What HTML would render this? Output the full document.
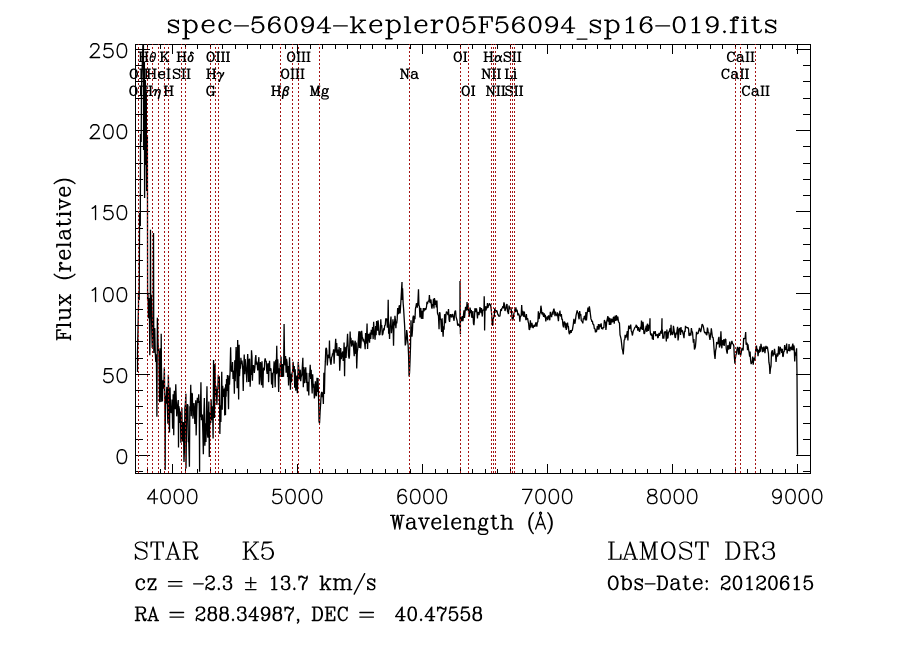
<!DOCTYPE html>
<html><head><meta charset="utf-8"><title>spec-56094-kepler05F56094_sp16-019</title>
<style>html,body{margin:0;padding:0;background:#fff;font-family:"Liberation Sans",sans-serif;}svg{display:block}</style></head><body>
<svg width="900" height="649" viewBox="0 0 900 649" shape-rendering="crispEdges">
<rect x="0" y="0" width="900" height="649" fill="#fff"/>
<path d="M135.5 44.5H810.5V473.5H135.5ZM147.5 473.5v-4.5M147.5 44.5v4.5M160.5 473.5v-4.5M160.5 44.5v4.5M172.5 473.5v-9.3M172.5 44.5v9.3M185.5 473.5v-4.5M185.5 44.5v4.5M197.5 473.5v-4.5M197.5 44.5v4.5M210.5 473.5v-4.5M210.5 44.5v4.5M222.5 473.5v-4.5M222.5 44.5v4.5M235.5 473.5v-4.5M235.5 44.5v4.5M247.5 473.5v-4.5M247.5 44.5v4.5M260.5 473.5v-4.5M260.5 44.5v4.5M272.5 473.5v-4.5M272.5 44.5v4.5M285.5 473.5v-4.5M285.5 44.5v4.5M297.5 473.5v-9.3M297.5 44.5v9.3M310.5 473.5v-4.5M310.5 44.5v4.5M322.5 473.5v-4.5M322.5 44.5v4.5M335.5 473.5v-4.5M335.5 44.5v4.5M347.5 473.5v-4.5M347.5 44.5v4.5M360.5 473.5v-4.5M360.5 44.5v4.5M372.5 473.5v-4.5M372.5 44.5v4.5M385.5 473.5v-4.5M385.5 44.5v4.5M397.5 473.5v-4.5M397.5 44.5v4.5M410.5 473.5v-4.5M410.5 44.5v4.5M422.5 473.5v-9.3M422.5 44.5v9.3M435.5 473.5v-4.5M435.5 44.5v4.5M447.5 473.5v-4.5M447.5 44.5v4.5M460.5 473.5v-4.5M460.5 44.5v4.5M472.5 473.5v-4.5M472.5 44.5v4.5M485.5 473.5v-4.5M485.5 44.5v4.5M497.5 473.5v-4.5M497.5 44.5v4.5M510.5 473.5v-4.5M510.5 44.5v4.5M522.5 473.5v-4.5M522.5 44.5v4.5M535.5 473.5v-4.5M535.5 44.5v4.5M547.5 473.5v-9.3M547.5 44.5v9.3M560.5 473.5v-4.5M560.5 44.5v4.5M572.5 473.5v-4.5M572.5 44.5v4.5M585.5 473.5v-4.5M585.5 44.5v4.5M597.5 473.5v-4.5M597.5 44.5v4.5M610.5 473.5v-4.5M610.5 44.5v4.5M622.5 473.5v-4.5M622.5 44.5v4.5M635.5 473.5v-4.5M635.5 44.5v4.5M647.5 473.5v-4.5M647.5 44.5v4.5M660.5 473.5v-4.5M660.5 44.5v4.5M672.5 473.5v-9.3M672.5 44.5v9.3M685.5 473.5v-4.5M685.5 44.5v4.5M697.5 473.5v-4.5M697.5 44.5v4.5M710.5 473.5v-4.5M710.5 44.5v4.5M722.5 473.5v-4.5M722.5 44.5v4.5M735.5 473.5v-4.5M735.5 44.5v4.5M747.5 473.5v-4.5M747.5 44.5v4.5M760.5 473.5v-4.5M760.5 44.5v4.5M772.5 473.5v-4.5M772.5 44.5v4.5M785.5 473.5v-4.5M785.5 44.5v4.5M797.5 473.5v-9.3M797.5 44.5v9.3M135.5 471.5h7.4M810.5 471.5h-7.4M135.5 455.5h14.3M810.5 455.5h-14.3M135.5 439.5h7.4M810.5 439.5h-7.4M135.5 423.5h7.4M810.5 423.5h-7.4M135.5 406.5h7.4M810.5 406.5h-7.4M135.5 390.5h7.4M810.5 390.5h-7.4M135.5 374.5h14.3M810.5 374.5h-14.3M135.5 358.5h7.4M810.5 358.5h-7.4M135.5 341.5h7.4M810.5 341.5h-7.4M135.5 325.5h7.4M810.5 325.5h-7.4M135.5 309.5h7.4M810.5 309.5h-7.4M135.5 293.5h14.3M810.5 293.5h-14.3M135.5 276.5h7.4M810.5 276.5h-7.4M135.5 260.5h7.4M810.5 260.5h-7.4M135.5 244.5h7.4M810.5 244.5h-7.4M135.5 228.5h7.4M810.5 228.5h-7.4M135.5 211.5h14.3M810.5 211.5h-14.3M135.5 195.5h7.4M810.5 195.5h-7.4M135.5 179.5h7.4M810.5 179.5h-7.4M135.5 163.5h7.4M810.5 163.5h-7.4M135.5 146.5h7.4M810.5 146.5h-7.4M135.5 130.5h14.3M810.5 130.5h-14.3M135.5 114.5h7.4M810.5 114.5h-7.4M135.5 98.5h7.4M810.5 98.5h-7.4M135.5 81.5h7.4M810.5 81.5h-7.4M135.5 65.5h7.4M810.5 65.5h-7.4M135.5 49.5h14.3M810.5 49.5h-14.3" fill="none" stroke="#000" stroke-width="1"/>
<clipPath id="c"><rect x="135" y="44" width="676" height="430"/></clipPath>
<polyline clip-path="url(#c)" fill="none" stroke="#000" stroke-width="1.3" stroke-linejoin="bevel" shape-rendering="geometricPrecision" points="137.50,372.00 137.50,352.00 138.50,306.00 138.50,294.00 139.20,300.00 139.50,230.00 139.50,213.00 140.30,226.00 140.50,147.00 140.50,134.00 141.20,142.00 141.50,88.00 143.40,30.00 143.60,150.00 144.40,62.00 144.60,198.00 145.40,80.00 145.60,165.00 146.30,92.00 146.60,191.00 147.40,135.00 147.60,300.00 148.00,292.77 148.41,318.17 148.92,298.00 149.33,300.20 149.78,355.31 150.26,316.31 150.50,229.76 150.72,308.67 151.28,294.76 151.75,330.19 152.19,348.02 152.71,329.31 153.25,307.32 153.50,233.01 153.83,353.02 154.25,329.29 154.75,328.04 155.26,352.23 155.78,362.05 156.37,354.18 156.91,416.81 157.37,317.72 157.86,339.73 158.41,350.45 158.99,351.84 159.56,402.15 160.05,348.21 160.48,363.47 160.98,402.06 161.20,333.70 161.46,368.38 162.00,395.06 162.41,401.37 162.97,380.33 163.49,388.61 163.93,382.62 164.36,367.57 164.93,408.31 165.20,470.12 165.40,395.78 166.00,403.68 166.42,394.36 166.85,386.89 167.28,405.54 167.88,423.78 168.35,374.84 168.91,398.08 169.50,432.61 170.05,387.51 170.46,405.32 171.00,412.34 171.59,412.70 172.04,399.60 172.62,428.82 173.18,394.26 173.74,435.15 174.29,390.79 174.77,400.24 175.21,409.20 175.77,384.23 176.30,400.96 176.70,416.34 177.29,410.31 177.73,404.48 178.25,400.07 178.50,447.38 178.83,406.07 179.41,409.51 179.92,423.08 180.35,411.47 180.85,442.76 181.35,439.06 181.86,407.73 182.37,440.47 182.85,441.34 183.39,421.90 183.98,461.95 184.43,449.64 184.86,407.99 185.31,404.60 185.89,393.72 186.00,468.49 186.32,444.62 186.91,412.39 187.47,404.07 187.94,405.73 188.35,442.10 188.81,442.09 189.41,466.76 189.86,406.25 190.29,410.53 190.74,384.76 191.28,416.14 191.76,392.96 192.33,394.06 192.90,418.65 193.48,412.52 193.93,403.05 194.37,408.01 194.83,423.92 195.23,418.29 195.74,400.22 196.16,435.38 196.73,411.07 197.33,397.81 197.85,402.63 198.28,401.95 198.71,394.40 199.25,406.04 199.60,471.74 199.74,400.98 200.33,417.15 200.93,382.31 201.40,420.29 201.90,415.00 202.38,414.99 202.83,432.27 203.36,454.24 203.83,414.90 204.35,397.93 204.88,445.62 205.38,423.37 205.95,441.87 206.49,410.64 206.96,386.31 207.49,434.20 207.89,437.75 208.39,417.06 208.84,401.42 209.29,456.96 209.76,412.34 210.29,416.27 210.74,423.11 211.14,399.17 211.68,420.24 212.17,406.37 212.61,408.86 213.10,438.44 213.56,360.06 214.07,382.95 214.50,417.98 215.04,364.10 215.44,395.84 215.90,385.69 216.47,392.79 216.90,405.01 217.35,389.65 217.87,389.50 218.28,374.78 218.87,384.94 219.31,376.19 219.87,433.90 220.38,405.25 220.87,421.94 221.28,398.93 221.75,371.75 222.20,409.85 222.68,385.71 223.26,396.95 223.86,393.49 224.28,388.45 224.73,415.43 225.21,387.36 225.50,414.90 225.68,384.13 226.10,396.61 226.55,379.09 227.04,391.00 227.44,374.98 227.94,385.40 228.52,409.27 228.97,375.53 229.51,384.82 230.06,372.22 230.62,347.15 231.08,368.39 231.62,371.68 232.13,370.44 232.54,361.94 233.06,379.05 233.51,370.51 233.92,372.95 234.37,393.82 234.78,360.19 235.22,381.24 235.66,364.22 236.10,347.14 236.69,365.76 237.18,388.12 237.66,339.97 238.07,360.17 238.64,399.42 239.11,344.73 239.52,376.12 239.98,367.41 240.45,368.62 240.89,357.77 241.38,364.12 241.96,360.47 242.37,364.75 242.78,369.95 243.23,390.99 243.68,371.11 244.23,354.45 244.78,374.30 245.18,359.09 245.77,366.82 246.27,371.58 246.82,382.27 247.29,362.42 247.70,353.93 248.11,363.99 248.71,381.96 249.13,359.73 249.62,358.72 250.15,386.70 250.58,374.26 251.05,374.75 251.50,350.20 251.96,356.26 252.41,380.63 252.83,369.75 253.41,365.13 253.85,366.77 254.33,372.92 254.88,367.60 255.41,358.20 255.85,355.01 256.29,364.62 256.72,361.63 257.23,364.41 257.74,370.32 258.28,364.37 258.87,357.15 259.36,384.56 259.80,379.98 260.38,362.13 260.95,365.24 261.46,385.25 261.99,361.34 262.45,374.93 262.94,387.84 263.37,369.33 263.78,367.57 264.30,370.36 264.75,360.53 265.18,358.39 265.66,361.23 266.24,361.23 266.65,369.85 267.16,373.89 267.67,364.72 268.16,363.25 268.61,382.14 269.05,367.83 269.53,360.67 269.94,370.80 270.50,368.89 270.97,368.42 271.57,384.42 272.17,372.65 272.60,387.87 273.07,373.40 273.52,372.35 274.11,361.30 274.57,365.79 275.16,387.16 275.72,359.80 276.19,374.28 276.76,345.87 277.24,373.45 277.76,359.26 278.19,371.79 278.65,391.96 279.18,368.34 279.61,376.68 280.19,363.35 280.59,366.30 281.06,356.41 281.50,377.09 282.09,363.98 282.62,376.94 283.07,364.08 283.54,376.72 284.09,324.08 284.59,361.50 285.15,365.31 285.58,356.05 286.11,372.70 286.57,358.74 287.11,362.90 287.60,377.09 288.02,365.99 288.57,385.47 289.03,374.08 289.53,357.27 289.98,369.52 290.42,389.81 290.89,373.71 291.47,382.23 292.07,372.92 292.64,371.24 293.10,361.74 293.68,372.08 294.27,366.12 294.67,387.70 295.22,369.27 295.79,390.61 296.36,383.26 296.80,375.59 297.36,393.24 297.82,377.35 298.26,361.79 298.71,367.67 299.18,379.48 299.70,375.01 300.26,369.66 300.70,381.16 301.13,376.98 301.73,375.19 302.29,367.50 302.85,357.81 303.30,387.34 303.82,366.95 304.38,383.09 304.86,378.21 305.27,369.58 305.77,367.34 306.26,382.97 306.79,372.86 307.36,391.29 307.84,388.95 308.34,381.75 308.80,395.47 309.23,372.95 309.66,376.60 310.21,364.76 310.68,378.91 311.17,369.74 311.61,381.75 312.17,393.59 312.66,374.28 313.21,387.65 313.76,383.82 314.34,398.45 314.87,395.21 315.40,381.28 315.94,393.40 316.43,396.11 317.02,377.88 317.49,391.94 318.00,377.98 318.51,395.44 319.05,421.57 319.55,423.23 320.09,412.24 320.69,402.92 321.17,394.31 321.71,391.85 322.26,397.09 322.82,392.28 323.37,404.00 323.88,372.84 324.41,394.09 324.87,372.07 325.34,361.65 325.79,348.80 326.34,347.98 326.83,350.95 327.31,365.39 327.87,356.90 328.44,354.75 329.03,358.04 329.46,340.56 329.89,357.20 330.46,362.10 331.04,364.80 331.58,357.39 332.16,356.08 332.59,353.39 333.02,354.20 333.59,349.38 334.10,363.61 334.58,352.61 335.11,348.73 335.70,338.84 336.19,352.68 336.72,342.94 337.21,355.69 337.70,349.62 338.16,355.76 338.61,355.11 339.17,347.01 339.69,370.65 340.23,360.35 340.69,347.96 341.22,359.08 341.74,356.32 342.26,353.29 342.75,351.46 343.16,361.02 343.63,356.47 344.08,342.58 344.57,376.16 345.08,346.91 345.60,353.87 346.07,357.93 346.57,347.17 347.01,345.37 347.55,333.71 348.12,345.46 348.57,355.95 349.13,358.72 349.54,355.08 350.13,331.62 350.53,343.46 350.95,337.82 351.52,346.46 352.03,344.72 352.59,340.90 353.08,340.69 353.63,348.39 354.23,356.10 354.75,343.07 355.21,340.69 355.75,353.86 356.21,342.48 356.72,368.38 357.29,351.90 357.75,348.76 358.33,339.63 358.89,331.24 359.33,348.10 359.78,331.33 360.27,332.61 360.71,348.41 361.22,341.03 361.66,330.73 362.17,336.42 362.58,337.80 363.11,341.40 363.57,338.81 364.17,341.84 364.62,343.20 365.18,349.28 365.59,332.97 366.00,343.70 366.59,337.75 367.06,323.47 367.58,349.05 368.06,335.78 368.65,333.91 369.12,339.75 369.53,342.73 370.13,332.42 370.72,338.93 371.27,329.76 371.70,333.91 372.12,334.46 372.56,326.93 373.15,339.15 373.64,321.68 374.17,331.43 374.66,335.16 375.07,339.69 375.65,326.05 376.10,335.28 376.60,321.10 377.19,324.07 377.64,330.82 378.08,320.36 378.66,327.26 379.07,335.06 379.48,334.51 379.88,335.01 380.36,330.69 380.79,319.21 381.23,327.26 381.73,325.14 382.27,335.10 382.68,334.47 383.10,332.76 383.67,328.28 384.16,330.40 384.73,325.42 385.25,325.31 385.75,318.60 386.33,318.90 386.88,319.13 387.37,327.62 387.78,325.58 388.20,299.74 388.62,333.81 389.14,329.43 389.56,339.03 389.98,325.22 390.41,322.97 390.98,316.48 391.41,333.29 391.90,327.37 392.49,327.02 392.95,319.37 393.54,345.66 394.04,321.51 394.52,325.30 394.94,315.74 395.36,319.62 395.89,328.18 396.30,321.64 396.75,323.34 397.20,318.63 397.66,308.08 398.18,313.91 398.67,313.54 399.10,306.30 399.55,305.19 400.07,313.42 400.61,305.91 401.11,297.50 401.61,288.54 402.00,282.06 402.08,299.99 402.58,288.27 403.13,303.05 403.62,308.95 404.17,318.27 404.71,327.01 405.25,345.42 405.75,343.50 406.25,338.72 406.67,329.97 407.19,333.85 407.67,341.23 408.15,345.52 408.61,356.25 409.07,376.44 409.56,372.70 410.08,359.77 410.54,346.00 410.98,320.38 411.39,330.77 411.95,336.74 412.45,330.71 412.97,317.44 413.47,315.61 413.99,323.01 414.48,316.06 414.95,319.20 415.42,309.01 415.84,307.24 416.44,303.37 416.89,303.86 417.33,307.59 417.93,301.57 418.49,289.17 418.95,305.61 419.39,306.05 419.92,317.42 420.40,309.54 420.82,308.04 421.38,318.76 421.79,316.91 422.26,310.72 422.84,319.06 423.32,308.14 423.91,311.26 424.32,309.98 424.90,308.28 425.49,309.79 425.97,309.17 426.54,306.53 426.98,301.90 427.43,304.00 427.91,302.04 428.48,300.87 428.93,301.33 429.40,295.04 429.86,302.05 430.42,303.01 430.97,299.44 431.56,306.78 431.98,308.70 432.50,304.18 432.94,306.00 433.45,298.74 433.98,308.48 434.40,298.10 434.93,300.62 435.43,304.81 435.88,300.60 436.36,307.39 436.93,300.58 437.47,313.03 438.00,314.79 438.47,315.75 439.05,329.28 439.46,312.38 439.94,312.77 440.37,319.18 440.82,319.76 441.22,326.99 441.63,331.92 442.08,318.19 442.66,329.32 443.14,336.78 443.56,326.22 444.10,329.74 444.59,314.33 445.09,314.87 445.50,323.13 446.01,314.44 446.46,311.53 446.90,313.05 447.43,312.60 447.92,315.03 448.50,308.97 449.06,319.71 449.60,321.86 450.16,314.92 450.60,314.25 451.14,316.96 451.64,317.01 452.04,314.97 452.58,314.15 453.08,316.49 453.48,317.96 454.07,320.75 454.50,314.11 454.96,311.40 455.54,310.64 456.09,317.03 456.56,318.64 457.12,320.77 457.65,325.58 458.24,323.80 458.70,324.85 459.13,325.54 459.54,325.80 459.94,327.45 460.00,281.08 460.40,334.19 460.42,315.88 460.91,318.03 461.47,319.87 461.96,321.26 462.38,315.98 462.96,321.12 463.48,315.14 464.00,310.36 464.50,317.92 465.08,312.27 465.57,306.73 466.08,310.43 466.56,309.13 467.07,302.08 467.49,310.18 468.00,303.97 468.51,311.62 468.92,313.05 469.46,316.63 470.01,307.50 470.44,309.71 470.87,313.04 471.34,310.00 471.80,317.66 472.33,316.80 472.90,311.04 473.45,323.42 473.93,325.20 474.34,319.77 474.90,308.28 475.35,309.63 475.87,312.24 476.43,308.24 476.96,311.89 477.47,318.46 477.87,312.40 478.45,312.75 479.01,315.05 479.44,312.28 479.97,307.03 480.54,310.20 481.02,313.05 481.49,308.13 481.89,312.83 482.32,316.56 482.82,309.64 483.41,310.47 483.97,309.41 484.20,296.35 484.49,307.53 484.60,330.45 485.07,306.16 485.62,309.30 486.09,310.54 486.56,306.28 487.03,308.39 487.46,303.11 487.95,307.80 488.36,305.76 488.87,305.59 489.39,303.27 489.98,304.57 490.56,304.93 491.01,307.89 491.47,312.27 491.91,318.93 492.35,325.06 492.76,325.38 493.19,319.15 493.72,317.18 494.27,316.41 494.74,308.36 495.26,310.23 495.71,312.24 496.22,310.98 496.77,310.54 497.20,311.71 497.68,314.24 498.21,314.70 498.67,316.19 499.13,315.97 499.58,316.31 499.99,315.78 500.46,311.58 500.88,309.10 501.38,311.00 501.85,308.03 502.43,308.20 502.88,306.20 503.35,308.36 503.93,302.32 504.46,304.40 504.97,311.01 505.50,309.28 505.99,308.12 506.51,305.14 507.03,304.04 507.48,311.24 507.95,312.33 508.48,313.95 509.06,305.62 509.62,308.90 510.22,308.94 510.81,307.15 511.36,310.69 511.78,314.37 512.35,320.23 512.91,319.87 513.36,317.31 513.96,313.27 514.45,312.26 514.99,308.93 515.41,312.16 515.88,307.41 516.43,311.63 516.84,309.61 517.35,311.29 517.88,315.31 518.48,313.44 518.94,314.84 519.42,315.91 519.82,321.75 520.34,316.64 520.77,316.31 521.18,315.76 521.69,305.10 522.24,315.34 522.84,310.69 523.31,316.02 523.83,316.52 524.34,311.54 524.92,317.28 525.42,315.79 525.93,320.15 526.37,313.96 526.90,319.47 527.31,318.42 527.73,318.70 528.21,322.10 528.62,323.28 529.11,329.24 529.54,329.95 529.99,327.22 530.39,320.34 530.83,327.47 531.28,325.94 531.85,322.87 532.37,325.40 532.85,327.99 533.38,327.36 533.89,325.48 534.44,324.88 534.85,326.97 535.35,324.92 535.87,322.32 536.35,325.14 536.85,326.64 537.40,322.06 537.91,321.87 538.35,311.40 538.77,318.91 539.31,318.05 539.84,313.08 540.41,313.08 540.91,305.69 541.36,308.53 541.87,314.26 542.33,313.86 542.79,311.99 543.26,315.70 543.73,316.57 544.25,313.30 544.73,317.43 545.29,314.92 545.80,321.36 546.38,317.62 546.79,318.27 547.23,316.40 547.73,320.12 548.17,317.53 548.61,315.33 549.20,317.34 549.78,320.30 550.32,311.82 550.77,316.36 551.20,314.50 551.63,317.21 552.03,313.72 552.54,311.68 553.03,314.57 553.45,310.04 553.96,308.73 554.46,311.53 555.03,316.25 555.46,311.51 555.90,314.89 556.50,314.20 556.91,316.22 557.46,312.38 557.87,316.82 558.43,321.24 558.93,313.47 559.45,315.68 559.88,310.69 560.45,315.93 560.87,316.13 561.37,314.01 561.88,319.64 562.36,318.76 562.94,325.17 563.52,327.40 564.06,321.95 564.52,321.72 564.97,322.66 565.42,328.14 565.83,323.10 566.24,329.90 566.71,328.19 567.11,325.07 567.53,322.57 567.96,326.44 568.40,326.36 568.96,332.43 569.54,334.23 570.07,331.83 570.61,330.21 571.15,332.74 571.73,330.04 572.29,330.53 572.85,327.08 573.36,323.82 573.91,318.71 574.35,322.10 574.94,323.77 575.49,319.95 576.06,315.42 576.63,312.81 577.18,310.32 577.61,312.90 578.10,312.63 578.67,317.35 579.12,319.33 579.68,311.13 580.25,315.62 580.72,314.18 581.30,320.60 581.80,321.20 582.23,321.53 582.82,323.40 583.29,318.29 583.79,319.43 584.33,315.98 584.92,316.40 585.39,320.38 585.89,312.10 586.46,320.48 587.01,314.50 587.42,311.65 588.00,307.61 588.41,310.31 588.86,311.82 589.35,306.30 589.88,309.89 590.42,314.21 590.98,318.92 591.49,319.96 591.92,321.80 592.40,320.84 592.86,324.13 593.35,324.15 593.82,325.13 594.41,328.98 594.96,328.47 595.46,332.43 595.91,329.59 596.37,332.24 596.78,330.04 597.37,326.12 597.88,329.54 598.44,324.09 599.03,329.56 599.51,324.46 599.99,325.14 600.56,327.20 601.14,323.42 601.62,328.85 602.14,327.81 602.71,329.28 603.24,327.16 603.82,327.98 604.40,319.93 604.92,322.10 605.49,321.95 605.91,330.00 606.38,325.34 606.84,320.79 607.30,318.79 607.86,316.12 608.30,321.79 608.82,317.39 609.39,325.03 609.94,317.94 610.35,324.11 610.83,324.65 611.41,319.22 611.87,319.18 612.30,322.13 612.79,321.62 613.25,317.72 613.73,316.67 614.19,323.66 614.74,318.20 615.28,315.74 615.85,320.96 616.33,315.21 616.79,316.60 617.37,320.34 617.79,316.48 618.39,321.16 618.95,322.53 619.45,323.04 620.03,334.82 620.52,336.69 621.09,339.10 621.61,343.65 622.16,348.83 622.67,350.42 623.25,354.52 623.70,348.09 624.21,339.77 624.73,340.02 625.14,334.88 625.62,337.85 626.15,336.90 626.74,334.77 627.33,331.12 627.90,340.51 628.32,330.62 628.73,325.54 629.26,328.68 629.71,328.49 630.13,326.60 630.70,324.56 631.25,330.91 631.82,332.08 632.35,335.52 632.76,333.62 633.16,331.29 633.72,330.03 634.16,329.27 634.67,327.89 635.24,327.12 635.70,326.61 636.30,324.82 636.72,327.82 637.21,325.78 637.80,330.64 638.36,327.09 638.93,329.37 639.52,331.89 639.98,330.33 640.47,326.85 641.02,329.15 641.48,320.56 641.92,326.37 642.48,330.02 642.99,321.70 643.51,326.88 643.94,333.50 644.53,333.53 645.12,330.88 645.71,328.53 646.30,325.64 646.84,332.07 647.29,324.32 647.74,323.85 648.28,330.85 648.69,328.31 649.12,325.01 649.65,326.21 650.00,318.27 650.07,330.10 650.56,334.42 651.03,334.70 651.48,335.73 651.93,333.44 652.36,339.20 652.80,335.01 653.28,340.01 653.69,331.38 654.28,333.34 654.84,333.40 655.26,331.18 655.74,336.09 656.18,334.88 656.68,335.36 657.24,334.02 657.67,337.50 658.09,337.91 658.58,335.07 659.07,333.01 659.52,335.82 660.11,333.51 660.61,331.83 661.06,330.90 661.55,333.68 662.00,318.27 662.01,329.14 662.44,330.24 662.84,338.62 663.33,336.46 663.83,338.61 664.39,332.48 664.87,331.75 665.39,331.74 665.79,333.09 666.34,341.36 666.88,329.62 667.37,338.15 667.97,338.04 668.41,332.38 669.01,331.79 669.54,330.62 670.11,328.23 670.60,335.38 671.04,324.84 671.47,334.26 671.88,331.82 672.37,334.95 672.95,333.67 673.43,325.81 673.83,328.37 674.40,332.57 674.97,337.04 675.41,337.96 675.99,332.59 676.57,334.17 677.03,330.48 677.56,326.73 678.05,340.41 678.55,336.73 678.99,329.24 679.47,328.34 680.06,328.86 680.54,334.95 680.98,326.96 681.41,332.05 681.92,330.11 682.47,330.88 682.87,333.04 683.46,335.02 683.99,338.21 684.54,330.75 685.06,332.06 685.50,325.83 685.96,327.69 686.50,326.96 687.04,327.95 687.62,327.65 688.13,327.81 688.58,329.18 689.00,335.79 689.56,335.30 689.99,332.96 690.43,334.41 690.87,335.40 691.39,328.05 691.95,331.83 692.46,331.75 692.88,336.70 693.37,342.82 693.91,339.02 694.45,349.50 694.91,348.27 695.36,347.13 695.95,340.73 696.49,331.76 696.90,333.97 697.48,333.26 697.98,333.98 698.49,331.32 698.96,329.74 699.41,327.86 699.96,329.74 700.55,332.16 701.08,330.25 701.66,326.85 702.12,324.09 702.60,324.83 703.20,326.14 703.62,327.99 704.13,330.98 704.68,332.84 705.13,332.83 705.68,332.24 706.27,334.59 706.82,335.13 707.41,327.64 707.86,329.51 708.29,333.05 708.83,332.26 709.40,336.68 709.95,339.83 710.42,335.90 710.89,333.21 711.31,328.40 711.84,332.34 712.42,337.59 712.97,337.10 713.45,339.96 713.92,347.18 714.49,354.36 715.04,359.02 715.61,350.49 716.17,348.28 716.64,341.95 717.04,343.35 717.45,343.06 717.93,344.19 718.46,338.98 719.01,336.82 719.43,347.56 719.93,345.82 720.37,344.96 720.91,331.38 721.42,342.78 721.84,348.33 722.31,340.24 722.76,341.14 723.23,345.07 723.69,339.30 724.20,345.84 724.80,340.22 725.23,339.24 725.81,339.19 726.21,348.13 726.80,351.94 727.23,353.67 727.75,345.38 728.25,346.01 728.72,349.67 729.17,346.73 729.75,341.55 730.30,348.94 730.87,344.77 731.36,343.46 731.89,340.84 732.49,343.73 732.93,343.81 733.39,344.55 733.83,346.06 734.33,356.67 734.92,363.78 735.35,358.60 735.94,354.70 736.41,353.98 736.98,349.30 737.53,347.00 738.01,348.37 738.54,354.65 739.02,349.24 739.55,346.95 740.03,353.60 740.59,355.61 741.09,353.50 741.60,350.45 742.06,347.89 742.52,348.57 743.10,350.50 743.66,338.14 744.10,338.50 744.55,338.72 745.09,338.23 745.68,332.14 746.11,344.76 746.53,343.06 747.13,343.21 747.53,350.25 747.96,344.24 748.56,349.31 749.04,352.03 749.64,356.73 750.07,351.56 750.57,359.85 751.13,364.07 751.65,362.46 752.22,361.76 752.66,356.59 753.22,364.77 753.78,357.69 754.32,358.94 754.91,360.55 755.36,353.98 755.93,346.95 756.48,345.65 757.05,351.69 757.47,348.78 758.02,356.18 758.50,351.68 758.92,349.94 759.41,352.72 759.94,346.41 760.39,351.63 760.97,343.83 761.48,346.99 762.06,348.47 762.48,352.23 762.89,347.31 763.32,351.80 763.88,346.45 764.45,348.13 764.94,353.25 765.53,348.02 765.96,345.76 766.39,348.09 766.84,348.73 767.36,346.67 767.87,350.09 768.45,353.58 768.90,362.18 769.48,365.46 769.96,374.06 770.46,368.56 771.01,366.09 771.49,353.03 772.00,350.99 772.47,350.24 772.92,356.47 773.46,353.35 773.97,354.65 774.49,348.88 775.08,353.66 775.52,355.15 776.06,361.97 776.59,356.24 777.08,353.39 777.48,356.39 778.05,355.23 778.61,346.26 779.19,353.69 779.67,354.29 780.27,346.88 780.70,350.54 781.29,348.49 781.73,352.91 782.31,348.84 782.74,356.43 783.24,356.54 783.75,351.34 784.19,351.77 784.64,345.11 785.11,348.63 785.68,349.89 786.20,348.38 786.66,343.64 787.12,353.58 787.56,349.88 788.10,350.28 788.52,350.66 789.05,344.04 789.47,350.41 789.90,351.03 790.32,348.54 790.80,347.05 791.40,347.67 791.84,350.17 792.27,346.11 792.86,343.53 793.30,350.52 793.75,345.31 794.18,347.02 794.72,361.55 795.26,352.28 795.68,355.60 796.21,351.48 796.60,348.32 797.00,374.30 797.50,454.69"/>
<path d="M138.5 44V474M138.5 44V474M147.5 44V474M152.5 44V474M158.5 44V474M164.5 44V474M168.5 44V474M181.5 44V474M185.5 44V474M210.5 44V474M215.5 44V474M218.5 44V474M280.5 44V474M292.5 44V474M298.5 44V474M319.5 44V474M409.5 44V474M460.5 44V474M468.5 44V474M491.5 44V474M493.5 44V474M495.5 44V474M510.5 44V474M512.5 44V474M514.5 44V474M735.5 44V474M740.5 44V474M755.5 44V474" fill="none" stroke="#a51414" stroke-width="1" stroke-dasharray="2 2" stroke-dashoffset="1"/>
<path d="M132.99 86.10L131.64 86.55L130.74 87.44L130.29 88.34L129.84 90.13L129.84 91.47L130.29 93.26L130.74 94.16L131.64 95.05L132.99 95.50L133.89 95.50L135.24 95.05L136.14 94.16L136.59 93.26L137.04 91.47L137.04 90.13L136.59 88.34L136.14 87.44L135.24 86.55L133.89 86.10L132.99 86.10 M132.99 86.10L132.09 86.55L131.19 87.44L130.74 88.34L130.29 90.13L130.29 91.47L130.74 93.26L131.19 94.16L132.09 95.05L132.99 95.50 M133.89 95.50L134.79 95.05L135.69 94.16L136.14 93.26L136.59 91.47L136.59 90.13L136.14 88.34L135.69 87.44L134.79 86.55L133.89 86.10 M140.64 86.10L140.64 95.50 M141.09 86.10L141.09 95.50 M139.29 86.10L142.44 86.10 M139.29 95.50L142.44 95.50 M145.59 86.10L145.59 95.50 M146.04 86.10L146.04 95.50 M144.24 86.10L147.39 86.10 M144.24 95.50L147.39 95.50 M133.34 69.10L131.99 69.55L131.09 70.44L130.64 71.34L130.19 73.13L130.19 74.47L130.64 76.26L131.09 77.16L131.99 78.05L133.34 78.50L134.24 78.50L135.59 78.05L136.49 77.16L136.94 76.26L137.39 74.47L137.39 73.13L136.94 71.34L136.49 70.44L135.59 69.55L134.24 69.10L133.34 69.10 M133.34 69.10L132.44 69.55L131.53 70.44L131.09 71.34L130.64 73.13L130.64 74.47L131.09 76.26L131.53 77.16L132.44 78.05L133.34 78.50 M134.24 78.50L135.14 78.05L136.03 77.16L136.49 76.26L136.94 74.47L136.94 73.13L136.49 71.34L136.03 70.44L135.14 69.55L134.24 69.10 M140.99 69.10L140.99 78.50 M141.44 69.10L141.44 78.50 M139.64 69.10L142.78 69.10 M139.64 78.50L142.78 78.50 M145.94 69.10L145.94 78.50 M146.39 69.10L146.39 78.50 M144.59 69.10L147.74 69.10 M144.59 78.50L147.74 78.50 M140.43 52.10L140.43 61.50 M140.88 52.10L140.88 61.50 M146.28 52.10L146.28 61.50 M146.73 52.10L146.73 61.50 M139.08 52.10L142.23 52.10 M144.93 52.10L148.08 52.10 M140.88 56.58L146.28 56.58 M139.08 61.50L142.23 61.50 M144.93 61.50L148.08 61.50 M153.37 52.63L152.17 53.05L151.37 54.32L150.58 56.43L150.18 58.54L150.18 59.81L150.58 61.08L151.37 61.50L152.17 61.50L153.37 61.08L154.17 59.81L154.97 57.70L155.37 55.59L155.37 54.32L154.97 53.05L154.17 52.63L153.37 52.63 M150.58 56.85L154.97 56.85 M144.51 86.10L144.51 95.50 M144.96 86.10L144.96 95.50 M150.36 86.10L150.36 95.50 M150.81 86.10L150.81 95.50 M143.16 86.10L146.31 86.10 M149.01 86.10L152.16 86.10 M144.96 90.58L150.36 90.58 M143.16 95.50L146.31 95.50 M149.01 95.50L152.16 95.50 M153.46 91.28L153.86 90.43L154.66 89.59L155.86 89.59L156.26 90.01L156.26 90.85L155.86 92.54L155.06 95.50 M155.46 89.59L155.86 90.01L155.86 90.85L155.46 92.54L154.66 95.50 M155.86 92.54L156.66 90.85L157.46 90.01L158.26 89.59L159.06 89.59L159.86 90.01L160.26 90.43L160.26 91.70L159.86 93.81L158.66 98.46 M159.06 89.59L159.86 90.43L159.86 91.70L159.46 93.81L158.26 98.46 M148.53 69.10L148.53 78.50 M148.98 69.10L148.98 78.50 M154.38 69.10L154.38 78.50 M154.84 69.10L154.84 78.50 M147.19 69.10L150.34 69.10 M153.03 69.10L156.19 69.10 M148.98 73.58L154.38 73.58 M147.19 78.50L150.34 78.50 M153.03 78.50L156.19 78.50 M158.97 74.53L164.60 74.53L164.60 73.53L164.13 72.54L163.66 72.04L162.72 71.54L161.31 71.54L159.91 72.04L158.97 73.03L158.50 74.53L158.50 75.52L158.97 77.01L159.91 78.00L161.31 78.50L162.25 78.50L163.66 78.00L164.60 77.01 M164.13 74.53L164.13 73.03L163.66 72.04 M161.31 71.54L160.38 72.04L159.44 73.03L158.97 74.53L158.97 75.52L159.44 77.01L160.38 78.00L161.31 78.50 M168.26 69.10L168.26 78.50 M168.72 69.10L168.72 78.50 M166.91 69.10L170.06 69.10 M166.91 78.50L170.06 78.50 M161.65 52.10L161.65 61.50 M162.10 52.10L162.10 61.50 M167.95 52.10L162.10 57.92 M164.35 56.13L167.95 61.50 M163.90 56.13L167.50 61.50 M160.30 52.10L163.45 52.10 M166.15 52.10L168.85 52.10 M160.30 61.50L163.45 61.50 M166.15 61.50L168.85 61.50 M165.55 86.10L165.55 95.50 M166.00 86.10L166.00 95.50 M171.40 86.10L171.40 95.50 M171.85 86.10L171.85 95.50 M164.20 86.10L167.35 86.10 M170.05 86.10L173.20 86.10 M166.00 90.58L171.40 90.58 M164.20 95.50L167.35 95.50 M170.05 95.50L173.20 95.50 M179.29 70.44L179.74 69.10L179.74 71.79L179.29 70.44L178.39 69.55L177.04 69.10L175.69 69.10L174.34 69.55L173.44 70.44L173.44 71.34L173.89 72.23L174.34 72.68L175.24 73.13L177.94 74.02L178.84 74.47L179.74 75.37 M173.44 71.34L174.34 72.23L175.24 72.68L177.94 73.58L178.84 74.02L179.29 74.47L179.74 75.37L179.74 77.16L178.84 78.05L177.49 78.50L176.14 78.50L174.79 78.05L173.89 77.16L173.44 75.81L173.44 78.50L173.89 77.16 M183.34 69.10L183.34 78.50 M183.79 69.10L183.79 78.50 M181.99 69.10L185.14 69.10 M181.99 78.50L185.14 78.50 M188.29 69.10L188.29 78.50 M188.74 69.10L188.74 78.50 M186.94 69.10L190.09 69.10 M186.94 78.50L190.09 78.50 M178.42 52.10L178.42 61.50 M178.87 52.10L178.87 61.50 M184.27 52.10L184.27 61.50 M184.72 52.10L184.72 61.50 M177.07 52.10L180.22 52.10 M182.92 52.10L186.07 52.10 M178.87 56.58L184.27 56.58 M177.07 61.50L180.22 61.50 M182.92 61.50L186.07 61.50 M192.16 56.01L191.36 55.59L190.56 55.59L189.36 56.01L188.56 57.28L188.16 58.54L188.16 59.81L188.56 60.66L188.96 61.08L189.76 61.50L190.56 61.50L191.76 61.08L192.56 59.81L192.96 58.54L192.96 57.28L192.56 56.43L190.96 54.32L190.56 53.48L190.56 52.63L190.96 52.21L191.76 52.21L192.56 52.63L193.36 53.48 M190.56 55.59L189.76 56.01L188.96 57.28L188.56 58.54L188.56 60.23L188.96 61.08 M190.56 61.50L191.36 61.08L192.16 59.81L192.56 58.54L192.56 56.85L192.16 56.01L191.36 54.74L190.96 53.90L190.96 53.05L191.36 52.63L192.16 52.63L193.36 53.48 M213.18 87.44L213.63 88.79L213.63 86.10L213.18 87.44L212.28 86.55L210.93 86.10L210.03 86.10L208.68 86.55L207.78 87.44L207.33 88.34L206.88 89.68L206.88 91.92L207.33 93.26L207.78 94.16L208.68 95.05L210.03 95.50L210.93 95.50L212.28 95.05L213.18 94.16 M210.03 86.10L209.13 86.55L208.23 87.44L207.78 88.34L207.33 89.68L207.33 91.92L207.78 93.26L208.23 94.16L209.13 95.05L210.03 95.50 M213.18 91.92L213.18 95.50 M213.63 91.92L213.63 95.50 M211.83 91.92L214.98 91.92 M208.07 69.10L208.07 78.50 M208.52 69.10L208.52 78.50 M213.92 69.10L213.92 78.50 M214.37 69.10L214.37 78.50 M206.72 69.10L209.87 69.10 M212.57 69.10L215.72 69.10 M208.52 73.58L213.92 73.58 M206.72 78.50L209.87 78.50 M212.57 78.50L215.72 78.50 M217.01 73.85L217.81 73.01L218.61 72.59L219.41 72.59L220.21 73.01L220.61 73.43L221.01 74.70L221.01 76.39L220.61 78.08L219.41 81.46 M217.41 73.43L218.21 73.01L219.81 73.01L220.61 73.43 M223.81 72.59L223.41 73.85L223.01 74.70L221.01 77.66L219.81 79.77L219.01 81.46 M223.41 72.59L223.01 73.85L222.61 74.70L221.01 77.66 M210.18 52.10L208.83 52.55L207.93 53.44L207.48 54.34L207.03 56.13L207.03 57.47L207.48 59.26L207.93 60.16L208.83 61.05L210.18 61.50L211.08 61.50L212.43 61.05L213.33 60.16L213.78 59.26L214.23 57.47L214.23 56.13L213.78 54.34L213.33 53.44L212.43 52.55L211.08 52.10L210.18 52.10 M210.18 52.10L209.28 52.55L208.38 53.44L207.93 54.34L207.48 56.13L207.48 57.47L207.93 59.26L208.38 60.16L209.28 61.05L210.18 61.50 M211.08 61.50L211.98 61.05L212.88 60.16L213.33 59.26L213.78 57.47L213.78 56.13L213.33 54.34L212.88 53.44L211.98 52.55L211.08 52.10 M217.83 52.10L217.83 61.50 M218.28 52.10L218.28 61.50 M216.48 52.10L219.63 52.10 M216.48 61.50L219.63 61.50 M222.78 52.10L222.78 61.50 M223.23 52.10L223.23 61.50 M221.43 52.10L224.58 52.10 M221.43 61.50L224.58 61.50 M227.73 52.10L227.73 61.50 M228.18 52.10L228.18 61.50 M226.38 52.10L229.53 52.10 M226.38 61.50L229.53 61.50 M272.99 86.10L272.99 95.50 M273.44 86.10L273.44 95.50 M278.84 86.10L278.84 95.50 M279.29 86.10L279.29 95.50 M271.64 86.10L274.79 86.10 M277.49 86.10L280.64 86.10 M273.44 90.58L278.84 90.58 M271.64 95.50L274.79 95.50 M277.49 95.50L280.64 95.50 M286.73 86.63L285.54 87.05L284.74 87.90L283.94 89.59L283.54 90.85L283.14 92.54L282.74 95.08L282.34 98.46 M286.73 86.63L285.93 87.05L285.14 87.90L284.34 89.59L283.94 90.85L283.54 92.54L283.14 95.08L282.74 98.46 M286.73 86.63L287.53 86.63L288.33 87.05L288.73 87.48L288.73 88.74L288.33 89.59L287.93 90.01L286.73 90.43L285.14 90.43 M287.53 86.63L288.33 87.48L288.33 88.74L287.93 89.59L287.53 90.01L286.73 90.43 M285.14 90.43L286.73 90.85L287.53 91.70L287.93 92.54L287.93 93.81L287.53 94.66L287.13 95.08L285.93 95.50L285.14 95.50L284.34 95.08L283.94 94.66L283.54 93.39 M285.14 90.43L286.33 90.85L287.13 91.70L287.53 92.54L287.53 93.81L287.13 94.66L286.73 95.08L285.93 95.50 M284.66 69.10L283.31 69.55L282.41 70.44L281.96 71.34L281.51 73.13L281.51 74.47L281.96 76.26L282.41 77.16L283.31 78.05L284.66 78.50L285.56 78.50L286.91 78.05L287.81 77.16L288.26 76.26L288.71 74.47L288.71 73.13L288.26 71.34L287.81 70.44L286.91 69.55L285.56 69.10L284.66 69.10 M284.66 69.10L283.76 69.55L282.86 70.44L282.41 71.34L281.96 73.13L281.96 74.47L282.41 76.26L282.86 77.16L283.76 78.05L284.66 78.50 M285.56 78.50L286.46 78.05L287.36 77.16L287.81 76.26L288.26 74.47L288.26 73.13L287.81 71.34L287.36 70.44L286.46 69.55L285.56 69.10 M292.31 69.10L292.31 78.50 M292.76 69.10L292.76 78.50 M290.96 69.10L294.11 69.10 M290.96 78.50L294.11 78.50 M297.26 69.10L297.26 78.50 M297.71 69.10L297.71 78.50 M295.91 69.10L299.06 69.10 M295.91 78.50L299.06 78.50 M302.21 69.10L302.21 78.50 M302.66 69.10L302.66 78.50 M300.86 69.10L304.01 69.10 M300.86 78.50L304.01 78.50 M290.65 52.10L289.30 52.55L288.40 53.44L287.95 54.34L287.50 56.13L287.50 57.47L287.95 59.26L288.40 60.16L289.30 61.05L290.65 61.50L291.55 61.50L292.90 61.05L293.80 60.16L294.25 59.26L294.70 57.47L294.70 56.13L294.25 54.34L293.80 53.44L292.90 52.55L291.55 52.10L290.65 52.10 M290.65 52.10L289.75 52.55L288.85 53.44L288.40 54.34L287.95 56.13L287.95 57.47L288.40 59.26L288.85 60.16L289.75 61.05L290.65 61.50 M291.55 61.50L292.45 61.05L293.35 60.16L293.80 59.26L294.25 57.47L294.25 56.13L293.80 54.34L293.35 53.44L292.45 52.55L291.55 52.10 M298.30 52.10L298.30 61.50 M298.75 52.10L298.75 61.50 M296.95 52.10L300.10 52.10 M296.95 61.50L300.10 61.50 M303.25 52.10L303.25 61.50 M303.70 52.10L303.70 61.50 M301.90 52.10L305.05 52.10 M301.90 61.50L305.05 61.50 M308.20 52.10L308.20 61.50 M308.65 52.10L308.65 61.50 M306.85 52.10L310.00 52.10 M306.85 61.50L310.00 61.50 M311.75 86.10L311.75 95.50 M312.20 86.10L314.90 94.16 M311.75 86.10L314.90 95.50 M318.05 86.10L314.90 95.50 M318.05 86.10L318.05 95.50 M318.50 86.10L318.50 95.50 M310.40 86.10L312.20 86.10 M318.05 86.10L319.85 86.10 M310.40 95.50L313.10 95.50 M316.70 95.50L319.85 95.50 M324.51 88.54L323.57 89.04L323.10 89.54L322.63 90.53L322.63 91.53L323.10 92.52L323.57 93.02L324.51 93.51L325.45 93.51L326.39 93.02L326.86 92.52L327.33 91.53L327.33 90.53L326.86 89.54L326.39 89.04L325.45 88.54L324.51 88.54 M323.57 89.04L323.10 90.03L323.10 92.02L323.57 93.02 M326.39 93.02L326.86 92.02L326.86 90.03L326.39 89.04 M326.86 89.54L327.33 89.04L328.27 88.54L328.27 89.04L327.33 89.04 M323.10 92.52L322.63 93.02L322.16 94.01L322.16 94.51L322.63 95.50L324.04 96.00L326.39 96.00L327.80 96.49L328.27 96.99 M322.16 94.51L322.63 95.00L324.04 95.50L326.39 95.50L327.80 96.00L328.27 96.99L328.27 97.49L327.80 98.48L326.39 98.98L323.57 98.98L322.16 98.48L321.69 97.49L321.69 96.99L322.16 96.00L323.57 95.50 M401.83 69.10L401.83 78.50 M402.28 69.10L407.68 77.60 M402.28 70.00L407.68 78.50 M407.68 69.10L407.68 78.50 M400.48 69.10L402.28 69.10 M406.33 69.10L409.03 69.10 M400.48 78.50L403.18 78.50 M412.28 72.54L412.28 73.03L411.81 73.03L411.81 72.54L412.28 72.04L413.22 71.54L415.10 71.54L416.04 72.04L416.51 72.54L416.98 73.53L416.98 77.01L417.45 78.00L417.92 78.50 M416.51 72.54L416.51 77.01L416.98 78.00L417.92 78.50L418.39 78.50 M416.51 73.53L416.04 74.03L413.22 74.53L411.81 75.02L411.34 76.02L411.34 77.01L411.81 78.00L413.22 78.50L414.63 78.50L415.57 78.00L416.51 77.01 M413.22 74.53L412.28 75.02L411.81 76.02L411.81 77.01L412.28 78.00L413.22 78.50 M457.33 52.10L455.98 52.55L455.08 53.44L454.63 54.34L454.18 56.13L454.18 57.47L454.63 59.26L455.08 60.16L455.98 61.05L457.33 61.50L458.23 61.50L459.58 61.05L460.48 60.16L460.93 59.26L461.38 57.47L461.38 56.13L460.93 54.34L460.48 53.44L459.58 52.55L458.23 52.10L457.33 52.10 M457.33 52.10L456.43 52.55L455.53 53.44L455.08 54.34L454.63 56.13L454.63 57.47L455.08 59.26L455.53 60.16L456.43 61.05L457.33 61.50 M458.23 61.50L459.13 61.05L460.03 60.16L460.48 59.26L460.93 57.47L460.93 56.13L460.48 54.34L460.03 53.44L459.13 52.55L458.23 52.10 M464.98 52.10L464.98 61.50 M465.43 52.10L465.43 61.50 M463.63 52.10L466.78 52.10 M463.63 61.50L466.78 61.50 M465.27 86.10L463.92 86.55L463.02 87.44L462.57 88.34L462.12 90.13L462.12 91.47L462.57 93.26L463.02 94.16L463.92 95.05L465.27 95.50L466.17 95.50L467.52 95.05L468.42 94.16L468.87 93.26L469.32 91.47L469.32 90.13L468.87 88.34L468.42 87.44L467.52 86.55L466.17 86.10L465.27 86.10 M465.27 86.10L464.37 86.55L463.47 87.44L463.02 88.34L462.57 90.13L462.57 91.47L463.02 93.26L463.47 94.16L464.37 95.05L465.27 95.50 M466.17 95.50L467.07 95.05L467.97 94.16L468.42 93.26L468.87 91.47L468.87 90.13L468.42 88.34L467.97 87.44L467.07 86.55L466.17 86.10 M472.92 86.10L472.92 95.50 M473.37 86.10L473.37 95.50 M471.57 86.10L474.72 86.10 M471.57 95.50L474.72 95.50 M483.36 69.10L483.36 78.50 M483.81 69.10L489.21 77.60 M483.81 70.00L489.21 78.50 M489.21 69.10L489.21 78.50 M482.01 69.10L483.81 69.10 M487.86 69.10L490.56 69.10 M482.01 78.50L484.71 78.50 M493.71 69.10L493.71 78.50 M494.16 69.10L494.16 78.50 M492.36 69.10L495.51 69.10 M492.36 78.50L495.51 78.50 M498.66 69.10L498.66 78.50 M499.11 69.10L499.11 78.50 M497.31 69.10L500.46 69.10 M497.31 78.50L500.46 78.50 M485.33 52.10L485.33 61.50 M485.78 52.10L485.78 61.50 M491.18 52.10L491.18 61.50 M491.63 52.10L491.63 61.50 M483.98 52.10L487.13 52.10 M489.83 52.10L492.98 52.10 M485.78 56.58L491.18 56.58 M483.98 61.50L487.13 61.50 M489.83 61.50L492.98 61.50 M497.88 55.59L496.68 56.01L495.88 56.85L495.48 57.70L495.08 58.97L495.08 60.23L495.48 61.08L496.68 61.50L497.48 61.50L498.28 61.08L499.47 59.81L500.27 58.54L501.07 56.85L501.47 55.59 M497.88 55.59L497.08 56.01L496.28 56.85L495.88 57.70L495.48 58.97L495.48 60.23L495.88 61.08L496.68 61.50 M497.88 55.59L498.68 55.59L499.47 56.01L499.87 56.85L500.67 60.23L501.07 61.08L501.47 61.50 M498.68 55.59L499.08 56.01L499.47 56.85L500.27 60.23L500.67 61.08L501.47 61.50L501.87 61.50 M487.78 86.10L487.78 95.50 M488.23 86.10L493.63 94.60 M488.23 87.00L493.63 95.50 M493.63 86.10L493.63 95.50 M486.43 86.10L488.23 86.10 M492.28 86.10L494.98 86.10 M486.43 95.50L489.13 95.50 M498.13 86.10L498.13 95.50 M498.58 86.10L498.58 95.50 M496.78 86.10L499.93 86.10 M496.78 95.50L499.93 95.50 M503.08 86.10L503.08 95.50 M503.53 86.10L503.53 95.50 M501.73 86.10L504.88 86.10 M501.73 95.50L504.88 95.50 M506.60 69.10L506.60 78.50 M507.05 69.10L507.05 78.50 M505.25 69.10L508.40 69.10 M505.25 78.50L512.00 78.50L512.00 75.81L511.55 78.50 M514.80 69.10L514.33 69.45L514.80 69.80L515.27 69.45L514.80 69.10 M514.80 71.54L514.80 78.50 M515.27 71.54L515.27 78.50 M513.39 71.54L515.27 71.54 M513.39 78.50L516.68 78.50 M510.04 53.44L510.49 52.10L510.49 54.79L510.04 53.44L509.14 52.55L507.79 52.10L506.44 52.10L505.09 52.55L504.19 53.44L504.19 54.34L504.64 55.23L505.09 55.68L505.99 56.13L508.69 57.02L509.59 57.47L510.49 58.37 M504.19 54.34L505.09 55.23L505.99 55.68L508.69 56.58L509.59 57.02L510.04 57.47L510.49 58.37L510.49 60.16L509.59 61.05L508.24 61.50L506.89 61.50L505.54 61.05L504.64 60.16L504.19 58.81L504.19 61.50L504.64 60.16 M514.09 52.10L514.09 61.50 M514.54 52.10L514.54 61.50 M512.74 52.10L515.89 52.10 M512.74 61.50L515.89 61.50 M519.04 52.10L519.04 61.50 M519.49 52.10L519.49 61.50 M517.69 52.10L520.84 52.10 M517.69 61.50L520.84 61.50 M511.83 87.44L512.28 86.10L512.28 88.79L511.83 87.44L510.93 86.55L509.58 86.10L508.23 86.10L506.88 86.55L505.98 87.44L505.98 88.34L506.43 89.23L506.88 89.68L507.78 90.13L510.48 91.02L511.38 91.47L512.28 92.37 M505.98 88.34L506.88 89.23L507.78 89.68L510.48 90.58L511.38 91.02L511.83 91.47L512.28 92.37L512.28 94.16L511.38 95.05L510.03 95.50L508.68 95.50L507.33 95.05L506.43 94.16L505.98 92.81L505.98 95.50L506.43 94.16 M515.88 86.10L515.88 95.50 M516.33 86.10L516.33 95.50 M514.53 86.10L517.68 86.10 M514.53 95.50L517.68 95.50 M520.83 86.10L520.83 95.50 M521.28 86.10L521.28 95.50 M519.48 86.10L522.63 86.10 M519.48 95.50L522.63 95.50 M728.32 70.44L728.77 71.79L728.77 69.10L728.32 70.44L727.42 69.55L726.07 69.10L725.17 69.10L723.82 69.55L722.92 70.44L722.47 71.34L722.02 72.68L722.02 74.92L722.47 76.26L722.92 77.16L723.82 78.05L725.17 78.50L726.07 78.50L727.42 78.05L728.32 77.16L728.77 76.26 M725.17 69.10L724.27 69.55L723.37 70.44L722.92 71.34L722.47 72.68L722.47 74.92L722.92 76.26L723.37 77.16L724.27 78.05L725.17 78.50 M732.47 72.54L732.47 73.03L732.00 73.03L732.00 72.54L732.47 72.04L733.41 71.54L735.29 71.54L736.23 72.04L736.70 72.54L737.17 73.53L737.17 77.01L737.64 78.00L738.11 78.50 M736.70 72.54L736.70 77.01L737.17 78.00L738.11 78.50L738.58 78.50 M736.70 73.53L736.23 74.03L733.41 74.53L732.00 75.02L731.53 76.02L731.53 77.01L732.00 78.00L733.41 78.50L734.82 78.50L735.76 78.00L736.70 77.01 M733.41 74.53L732.47 75.02L732.00 76.02L732.00 77.01L732.47 78.00L733.41 78.50 M741.77 69.10L741.77 78.50 M742.22 69.10L742.22 78.50 M740.42 69.10L743.57 69.10 M740.42 78.50L743.57 78.50 M746.72 69.10L746.72 78.50 M747.17 69.10L747.17 78.50 M745.37 69.10L748.52 69.10 M745.37 78.50L748.52 78.50 M733.83 53.44L734.28 54.79L734.28 52.10L733.83 53.44L732.93 52.55L731.58 52.10L730.68 52.10L729.33 52.55L728.43 53.44L727.98 54.34L727.53 55.68L727.53 57.92L727.98 59.26L728.43 60.16L729.33 61.05L730.68 61.50L731.58 61.50L732.93 61.05L733.83 60.16L734.28 59.26 M730.68 52.10L729.78 52.55L728.88 53.44L728.43 54.34L727.98 55.68L727.98 57.92L728.43 59.26L728.88 60.16L729.78 61.05L730.68 61.50 M737.98 55.54L737.98 56.03L737.51 56.03L737.51 55.54L737.98 55.04L738.92 54.54L740.80 54.54L741.74 55.04L742.21 55.54L742.68 56.53L742.68 60.01L743.15 61.00L743.62 61.50 M742.21 55.54L742.21 60.01L742.68 61.00L743.62 61.50L744.09 61.50 M742.21 56.53L741.74 57.03L738.92 57.53L737.51 58.02L737.04 59.02L737.04 60.01L737.51 61.00L738.92 61.50L740.33 61.50L741.27 61.00L742.21 60.01 M738.92 57.53L737.98 58.02L737.51 59.02L737.51 60.01L737.98 61.00L738.92 61.50 M747.28 52.10L747.28 61.50 M747.73 52.10L747.73 61.50 M745.93 52.10L749.08 52.10 M745.93 61.50L749.08 61.50 M752.23 52.10L752.23 61.50 M752.68 52.10L752.68 61.50 M750.88 52.10L754.03 52.10 M750.88 61.50L754.03 61.50 M748.84 87.44L749.29 88.79L749.29 86.10L748.84 87.44L747.94 86.55L746.59 86.10L745.69 86.10L744.34 86.55L743.44 87.44L742.99 88.34L742.54 89.68L742.54 91.92L742.99 93.26L743.44 94.16L744.34 95.05L745.69 95.50L746.59 95.50L747.94 95.05L748.84 94.16L749.29 93.26 M745.69 86.10L744.79 86.55L743.89 87.44L743.44 88.34L742.99 89.68L742.99 91.92L743.44 93.26L743.89 94.16L744.79 95.05L745.69 95.50 M752.99 89.54L752.99 90.03L752.52 90.03L752.52 89.54L752.99 89.04L753.93 88.54L755.81 88.54L756.75 89.04L757.22 89.54L757.69 90.53L757.69 94.01L758.16 95.00L758.63 95.50 M757.22 89.54L757.22 94.01L757.69 95.00L758.63 95.50L759.10 95.50 M757.22 90.53L756.75 91.03L753.93 91.53L752.52 92.02L752.05 93.02L752.05 94.01L752.52 95.00L753.93 95.50L755.34 95.50L756.28 95.00L757.22 94.01 M753.93 91.53L752.99 92.02L752.52 93.02L752.52 94.01L752.99 95.00L753.93 95.50 M762.29 86.10L762.29 95.50 M762.74 86.10L762.74 95.50 M760.94 86.10L764.09 86.10 M760.94 95.50L764.09 95.50 M767.24 86.10L767.24 95.50 M767.69 86.10L767.69 95.50 M765.89 86.10L769.04 86.10 M765.89 95.50L769.04 95.50" fill="none" stroke="#000" stroke-width="1.2" stroke-linejoin="round" stroke-linecap="round" shape-rendering="geometricPrecision"/>
<path d="M177.46 22.04L178.35 20.28L178.35 23.80L177.46 22.04L176.57 21.16L174.80 20.28L171.26 20.28L169.49 21.16L168.60 22.04L168.60 23.80L169.49 24.68L171.26 25.56L175.69 27.32L177.46 28.20L178.35 29.08 M168.60 22.92L169.49 23.80L171.26 24.68L175.69 26.44L177.46 27.32L178.35 28.20L178.35 30.84L177.46 31.72L175.69 32.60L172.14 32.60L170.37 31.72L169.49 30.84L168.60 29.08L168.60 32.60L169.49 30.84 M185.44 20.28L185.44 38.76 M186.32 20.28L186.32 38.76 M186.32 22.92L188.09 21.16L189.87 20.28L191.64 20.28L194.30 21.16L196.07 22.92L196.96 25.56L196.96 27.32L196.07 29.96L194.30 31.72L191.64 32.60L189.87 32.60L188.09 31.72L186.32 29.96 M191.64 20.28L193.41 21.16L195.18 22.92L196.07 25.56L196.07 27.32L195.18 29.96L193.41 31.72L191.64 32.60 M182.78 20.28L186.32 20.28 M182.78 38.76L188.98 38.76 M203.16 25.56L213.79 25.56L213.79 23.80L212.91 22.04L212.02 21.16L210.25 20.28L207.59 20.28L204.93 21.16L203.16 22.92L202.27 25.56L202.27 27.32L203.16 29.96L204.93 31.72L207.59 32.60L209.36 32.60L212.02 31.72L213.79 29.96 M212.91 25.56L212.91 22.92L212.02 21.16 M207.59 20.28L205.82 21.16L204.04 22.92L203.16 25.56L203.16 27.32L204.04 29.96L205.82 31.72L207.59 32.60 M229.74 22.92L228.85 23.80L229.74 24.68L230.63 23.80L230.63 22.92L228.85 21.16L227.08 20.28L224.42 20.28L221.77 21.16L219.99 22.92L219.11 25.56L219.11 27.32L219.99 29.96L221.77 31.72L224.42 32.60L226.20 32.60L228.85 31.72L230.63 29.96 M224.42 20.28L222.65 21.16L220.88 22.92L219.99 25.56L219.99 27.32L220.88 29.96L222.65 31.72L224.42 32.60 M234.69 25.91L248.37 25.91 M253.89 17.00L252.24 24.43 M252.24 24.43L253.89 22.94L256.37 22.20L258.84 22.20L261.31 22.94L262.96 24.43L263.78 26.66L263.78 28.14L262.96 30.37L261.31 31.86L258.84 32.60L256.37 32.60L253.89 31.86L253.07 31.11L252.24 29.63L252.24 28.89L253.07 28.14L253.89 28.89L253.07 29.63 M258.84 22.20L260.49 22.94L262.14 24.43L262.96 26.66L262.96 28.14L262.14 30.37L260.49 31.86L258.84 32.60 M253.89 17.00L262.14 17.00 M253.89 17.74L258.01 17.74L262.14 17.00 M278.62 19.23L277.80 19.97L278.62 20.71L279.45 19.97L279.45 19.23L278.62 17.74L276.97 17.00L274.50 17.00L272.03 17.74L270.38 19.23L269.55 20.71L268.73 23.69L268.73 28.14L269.55 30.37L271.20 31.86L273.68 32.60L275.32 32.60L277.80 31.86L279.45 30.37L280.27 28.14L280.27 27.40L279.45 25.17L277.80 23.69L275.32 22.94L274.50 22.94L272.03 23.69L270.38 25.17L269.55 27.40 M274.50 17.00L272.85 17.74L271.20 19.23L270.38 20.71L269.55 23.69L269.55 28.14L270.38 30.37L272.03 31.86L273.68 32.60 M275.32 32.60L276.97 31.86L278.62 30.37L279.45 28.14L279.45 27.40L278.62 25.17L276.97 23.69L275.32 22.94 M290.16 17.00L287.69 17.74L286.04 19.97L285.22 23.69L285.22 25.91L286.04 29.63L287.69 31.86L290.16 32.60L291.81 32.60L294.28 31.86L295.93 29.63L296.75 25.91L296.75 23.69L295.93 19.97L294.28 17.74L291.81 17.00L290.16 17.00 M290.16 17.00L288.51 17.74L287.69 18.49L286.86 19.97L286.04 23.69L286.04 25.91L286.86 29.63L287.69 31.11L288.51 31.86L290.16 32.60 M291.81 32.60L293.46 31.86L294.28 31.11L295.11 29.63L295.93 25.91L295.93 23.69L295.11 19.97L294.28 18.49L293.46 17.74L291.81 17.00 M312.42 22.20L311.59 24.43L309.94 25.91L307.47 26.66L306.65 26.66L304.17 25.91L302.52 24.43L301.70 22.20L301.70 21.46L302.52 19.23L304.17 17.74L306.65 17.00L308.29 17.00L310.77 17.74L312.42 19.23L313.24 21.46L313.24 25.91L312.42 28.89L311.59 30.37L309.94 31.86L307.47 32.60L305.00 32.60L303.35 31.86L302.52 30.37L302.52 29.63L303.35 28.89L304.17 29.63L303.35 30.37 M306.65 26.66L305.00 25.91L303.35 24.43L302.52 22.20L302.52 21.46L303.35 19.23L305.00 17.74L306.65 17.00 M308.29 17.00L309.94 17.74L311.59 19.23L312.42 21.46L312.42 25.91L311.59 28.89L310.77 30.37L309.12 31.86L307.47 32.60 M325.60 18.49L325.60 32.60 M326.43 17.00L326.43 32.60 M326.43 17.00L317.36 28.14L330.55 28.14 M323.13 32.60L328.90 32.60 M333.60 25.91L347.28 25.91 M353.12 17.00L353.12 32.60 M354.00 17.00L354.00 32.60 M362.86 20.28L354.00 29.08 M358.43 25.56L363.75 32.60 M357.55 25.56L362.86 32.60 M350.46 17.00L354.00 17.00 M360.20 20.28L365.52 20.28 M350.46 32.60L356.66 32.60 M360.20 32.60L365.52 32.60 M370.84 25.56L381.47 25.56L381.47 23.80L380.58 22.04L379.70 21.16L377.93 20.28L375.27 20.28L372.61 21.16L370.84 22.92L369.95 25.56L369.95 27.32L370.84 29.96L372.61 31.72L375.27 32.60L377.04 32.60L379.70 31.72L381.47 29.96 M380.58 25.56L380.58 22.92L379.70 21.16 M375.27 20.28L373.50 21.16L371.72 22.92L370.84 25.56L370.84 27.32L371.72 29.96L373.50 31.72L375.27 32.60 M388.56 20.28L388.56 38.76 M389.45 20.28L389.45 38.76 M389.45 22.92L391.22 21.16L392.99 20.28L394.76 20.28L397.42 21.16L399.19 22.92L400.08 25.56L400.08 27.32L399.19 29.96L397.42 31.72L394.76 32.60L392.99 32.60L391.22 31.72L389.45 29.96 M394.76 20.28L396.53 21.16L398.31 22.92L399.19 25.56L399.19 27.32L398.31 29.96L396.53 31.72L394.76 32.60 M385.90 20.28L389.45 20.28 M385.90 38.76L392.10 38.76 M407.17 17.00L407.17 32.60 M408.05 17.00L408.05 32.60 M404.51 17.00L408.05 17.00 M404.51 32.60L410.71 32.60 M416.03 25.56L426.66 25.56L426.66 23.80L425.78 22.04L424.89 21.16L423.12 20.28L420.46 20.28L417.80 21.16L416.03 22.92L415.14 25.56L415.14 27.32L416.03 29.96L417.80 31.72L420.46 32.60L422.23 32.60L424.89 31.72L426.66 29.96 M425.78 25.56L425.78 22.92L424.89 21.16 M420.46 20.28L418.69 21.16L416.91 22.92L416.03 25.56L416.03 27.32L416.91 29.96L418.69 31.72L420.46 32.60 M433.75 20.28L433.75 32.60 M434.64 20.28L434.64 32.60 M434.64 25.56L435.52 22.92L437.29 21.16L439.07 20.28L441.73 20.28L442.61 21.16L442.61 22.04L441.73 22.92L440.84 22.04L441.73 21.16 M431.09 20.28L434.64 20.28 M431.09 32.60L437.29 32.60 M451.80 17.00L449.33 17.74L447.68 19.97L446.86 23.69L446.86 25.91L447.68 29.63L449.33 31.86L451.80 32.60L453.45 32.60L455.92 31.86L457.57 29.63L458.40 25.91L458.40 23.69L457.57 19.97L455.92 17.74L453.45 17.00L451.80 17.00 M451.80 17.00L450.15 17.74L449.33 18.49L448.50 19.97L447.68 23.69L447.68 25.91L448.50 29.63L449.33 31.11L450.15 31.86L451.80 32.60 M453.45 32.60L455.10 31.86L455.92 31.11L456.75 29.63L457.57 25.91L457.57 23.69L456.75 19.97L455.92 18.49L455.10 17.74L453.45 17.00 M464.99 17.00L463.34 24.43 M463.34 24.43L464.99 22.94L467.46 22.20L469.94 22.20L472.41 22.94L474.06 24.43L474.88 26.66L474.88 28.14L474.06 30.37L472.41 31.86L469.94 32.60L467.46 32.60L464.99 31.86L464.17 31.11L463.34 29.63L463.34 28.89L464.17 28.14L464.99 28.89L464.17 29.63 M469.94 22.20L471.58 22.94L473.23 24.43L474.06 26.66L474.06 28.14L473.23 30.37L471.58 31.86L469.94 32.60 M464.99 17.00L473.23 17.00 M464.99 17.74L469.11 17.74L473.23 17.00 M481.48 17.00L481.48 32.60 M482.30 17.00L482.30 32.60 M487.25 21.46L487.25 27.40 M479.00 17.00L492.19 17.00L492.19 21.46L491.37 17.00 M482.30 24.43L487.25 24.43 M479.00 32.60L484.77 32.60 M497.96 17.00L496.31 24.43 M496.31 24.43L497.96 22.94L500.43 22.20L502.91 22.20L505.38 22.94L507.03 24.43L507.85 26.66L507.85 28.14L507.03 30.37L505.38 31.86L502.91 32.60L500.43 32.60L497.96 31.86L497.14 31.11L496.31 29.63L496.31 28.89L497.14 28.14L497.96 28.89L497.14 29.63 M502.91 22.20L504.56 22.94L506.20 24.43L507.03 26.66L507.03 28.14L506.20 30.37L504.56 31.86L502.91 32.60 M497.96 17.00L506.20 17.00 M497.96 17.74L502.08 17.74L506.20 17.00 M522.69 19.23L521.87 19.97L522.69 20.71L523.51 19.97L523.51 19.23L522.69 17.74L521.04 17.00L518.57 17.00L516.10 17.74L514.45 19.23L513.62 20.71L512.80 23.69L512.80 28.14L513.62 30.37L515.27 31.86L517.74 32.60L519.39 32.60L521.87 31.86L523.51 30.37L524.34 28.14L524.34 27.40L523.51 25.17L521.87 23.69L519.39 22.94L518.57 22.94L516.10 23.69L514.45 25.17L513.62 27.40 M518.57 17.00L516.92 17.74L515.27 19.23L514.45 20.71L513.62 23.69L513.62 28.14L514.45 30.37L516.10 31.86L517.74 32.60 M519.39 32.60L521.04 31.86L522.69 30.37L523.51 28.14L523.51 27.40L522.69 25.17L521.04 23.69L519.39 22.94 M534.23 17.00L531.76 17.74L530.11 19.97L529.28 23.69L529.28 25.91L530.11 29.63L531.76 31.86L534.23 32.60L535.88 32.60L538.35 31.86L540.00 29.63L540.82 25.91L540.82 23.69L540.00 19.97L538.35 17.74L535.88 17.00L534.23 17.00 M534.23 17.00L532.58 17.74L531.76 18.49L530.93 19.97L530.11 23.69L530.11 25.91L530.93 29.63L531.76 31.11L532.58 31.86L534.23 32.60 M535.88 32.60L537.53 31.86L538.35 31.11L539.18 29.63L540.00 25.91L540.00 23.69L539.18 19.97L538.35 18.49L537.53 17.74L535.88 17.00 M556.49 22.20L555.66 24.43L554.01 25.91L551.54 26.66L550.72 26.66L548.24 25.91L546.59 24.43L545.77 22.20L545.77 21.46L546.59 19.23L548.24 17.74L550.72 17.00L552.36 17.00L554.84 17.74L556.49 19.23L557.31 21.46L557.31 25.91L556.49 28.89L555.66 30.37L554.01 31.86L551.54 32.60L549.07 32.60L547.42 31.86L546.59 30.37L546.59 29.63L547.42 28.89L548.24 29.63L547.42 30.37 M550.72 26.66L549.07 25.91L547.42 24.43L546.59 22.20L546.59 21.46L547.42 19.23L549.07 17.74L550.72 17.00 M552.36 17.00L554.01 17.74L555.66 19.23L556.49 21.46L556.49 25.91L555.66 28.89L554.84 30.37L553.19 31.86L551.54 32.60 M569.67 18.49L569.67 32.60 M570.50 17.00L570.50 32.60 M570.50 17.00L561.43 28.14L574.62 28.14 M567.20 32.60L572.97 32.60 M577.09 39.06L586.98 39.06 M599.33 22.04L600.21 20.28L600.21 23.80L599.33 22.04L598.44 21.16L596.67 20.28L593.12 20.28L591.35 21.16L590.47 22.04L590.47 23.80L591.35 24.68L593.12 25.56L597.56 27.32L599.33 28.20L600.21 29.08 M590.47 22.92L591.35 23.80L593.12 24.68L597.56 26.44L599.33 27.32L600.21 28.20L600.21 30.84L599.33 31.72L597.56 32.60L594.01 32.60L592.24 31.72L591.35 30.84L590.47 29.08L590.47 32.60L591.35 30.84 M607.30 20.28L607.30 38.76 M608.19 20.28L608.19 38.76 M608.19 22.92L609.96 21.16L611.73 20.28L613.51 20.28L616.16 21.16L617.94 22.92L618.82 25.56L618.82 27.32L617.94 29.96L616.16 31.72L613.51 32.60L611.73 32.60L609.96 31.72L608.19 29.96 M613.51 20.28L615.28 21.16L617.05 22.92L617.94 25.56L617.94 27.32L617.05 29.96L615.28 31.72L613.51 32.60 M604.64 20.28L608.19 20.28 M604.64 38.76L610.85 38.76 M626.43 19.97L628.07 19.23L630.55 17.00L630.55 32.60 M629.72 17.74L629.72 32.60 M626.43 32.60L633.84 32.60 M650.33 19.23L649.51 19.97L650.33 20.71L651.15 19.97L651.15 19.23L650.33 17.74L648.68 17.00L646.21 17.00L643.74 17.74L642.09 19.23L641.26 20.71L640.44 23.69L640.44 28.14L641.26 30.37L642.91 31.86L645.38 32.60L647.03 32.60L649.51 31.86L651.15 30.37L651.98 28.14L651.98 27.40L651.15 25.17L649.51 23.69L647.03 22.94L646.21 22.94L643.74 23.69L642.09 25.17L641.26 27.40 M646.21 17.00L644.56 17.74L642.91 19.23L642.09 20.71L641.26 23.69L641.26 28.14L642.09 30.37L643.74 31.86L645.38 32.60 M647.03 32.60L648.68 31.86L650.33 30.37L651.15 28.14L651.15 27.40L650.33 25.17L648.68 23.69L647.03 22.94 M655.85 25.91L669.54 25.91 M678.36 17.00L675.88 17.74L674.23 19.97L673.41 23.69L673.41 25.91L674.23 29.63L675.88 31.86L678.36 32.60L680.00 32.60L682.48 31.86L684.13 29.63L684.95 25.91L684.95 23.69L684.13 19.97L682.48 17.74L680.00 17.00L678.36 17.00 M678.36 17.00L676.71 17.74L675.88 18.49L675.06 19.97L674.23 23.69L674.23 25.91L675.06 29.63L675.88 31.11L676.71 31.86L678.36 32.60 M680.00 32.60L681.65 31.86L682.48 31.11L683.30 29.63L684.13 25.91L684.13 23.69L683.30 19.97L682.48 18.49L681.65 17.74L680.00 17.00 M692.37 19.97L694.02 19.23L696.49 17.00L696.49 32.60 M695.67 17.74L695.67 32.60 M692.37 32.60L699.79 32.60 M717.10 22.20L716.27 24.43L714.62 25.91L712.15 26.66L711.33 26.66L708.85 25.91L707.21 24.43L706.38 22.20L706.38 21.46L707.21 19.23L708.85 17.74L711.33 17.00L712.98 17.00L715.45 17.74L717.10 19.23L717.92 21.46L717.92 25.91L717.10 28.89L716.27 30.37L714.62 31.86L712.15 32.60L709.68 32.60L708.03 31.86L707.21 30.37L707.21 29.63L708.03 28.89L708.85 29.63L708.03 30.37 M711.33 26.66L709.68 25.91L708.03 24.43L707.21 22.20L707.21 21.46L708.03 19.23L709.68 17.74L711.33 17.00 M712.98 17.00L714.62 17.74L716.27 19.23L717.10 21.46L717.10 25.91L716.27 28.89L715.45 30.37L713.80 31.86L712.15 32.60 M724.52 31.11L723.69 31.86L724.52 32.60L725.34 31.86L724.52 31.11 M737.50 17.47L736.61 17.94L737.50 18.40L738.38 17.94L738.38 17.47L737.50 17.00L735.73 17.00L733.95 17.47L733.07 18.40L733.07 32.60 M735.73 17.00L734.84 17.47L733.95 18.40L733.95 32.60 M730.41 20.28L737.50 20.28 M730.41 32.60L736.61 32.60 M744.59 17.00L743.70 17.47L744.59 17.94L745.47 17.47L744.59 17.00 M744.59 20.28L744.59 32.60 M745.47 20.28L745.47 32.60 M741.93 20.28L745.47 20.28 M741.93 32.60L748.13 32.60 M754.33 17.00L754.33 29.08L755.22 31.72L756.99 32.60L758.76 32.60L760.54 31.72L761.42 29.96 M755.22 17.00L755.22 29.08L756.11 31.72L756.99 32.60 M751.68 20.28L758.76 20.28 M774.71 22.04L775.60 20.28L775.60 23.80L774.71 22.04L773.83 21.16L772.06 20.28L768.51 20.28L766.74 21.16L765.85 22.04L765.85 23.80L766.74 24.68L768.51 25.56L772.94 27.32L774.71 28.20L775.60 29.08 M765.85 22.92L766.74 23.80L768.51 24.68L772.94 26.44L774.71 27.32L775.60 28.20L775.60 30.84L774.71 31.72L772.94 32.60L769.40 32.60L767.63 31.72L766.74 30.84L765.85 29.08L765.85 32.60L766.74 30.84 M154.25 489.40L147.59 498.87L157.57 498.87 M154.25 489.40L154.25 503.60 M164.88 489.40L162.89 490.08L161.56 492.10L160.89 495.49L160.89 497.51L161.56 500.90L162.89 502.92L164.88 503.60L166.22 503.60L168.21 502.92L169.54 500.90L170.20 497.51L170.20 495.49L169.54 492.10L168.21 490.08L166.22 489.40L164.88 489.40 M178.19 489.40L176.19 490.08L174.86 492.10L174.19 495.49L174.19 497.51L174.86 500.90L176.19 502.92L178.19 503.60L179.51 503.60L181.51 502.92L182.84 500.90L183.50 497.51L183.50 495.49L182.84 492.10L181.51 490.08L179.51 489.40L178.19 489.40 M191.49 489.40L189.49 490.08L188.16 492.10L187.50 495.49L187.50 497.51L188.16 500.90L189.49 502.92L191.49 503.60L192.81 503.60L194.81 502.92L196.14 500.90L196.81 497.51L196.81 495.49L196.14 492.10L194.81 490.08L192.81 489.40L191.49 489.40 M280.57 489.40L273.92 489.40L273.26 495.49L273.92 494.81L275.92 494.13L277.91 494.13L279.91 494.81L281.24 496.16L281.90 498.19L281.90 499.54L281.24 501.57L279.91 502.92L277.91 503.60L275.92 503.60L273.92 502.92L273.26 502.25L272.59 500.90 M289.88 489.40L287.89 490.08L286.56 492.10L285.89 495.49L285.89 497.51L286.56 500.90L287.89 502.92L289.88 503.60L291.21 503.60L293.21 502.92L294.54 500.90L295.20 497.51L295.20 495.49L294.54 492.10L293.21 490.08L291.21 489.40L289.88 489.40 M303.18 489.40L301.19 490.08L299.86 492.10L299.19 495.49L299.19 497.51L299.86 500.90L301.19 502.92L303.18 503.60L304.51 503.60L306.51 502.92L307.84 500.90L308.50 497.51L308.50 495.49L307.84 492.10L306.51 490.08L304.51 489.40L303.18 489.40 M316.48 489.40L314.49 490.08L313.16 492.10L312.49 495.49L312.49 497.51L313.16 500.90L314.49 502.92L316.48 503.60L317.81 503.60L319.81 502.92L321.14 500.90L321.80 497.51L321.80 495.49L321.14 492.10L319.81 490.08L317.81 489.40L316.48 489.40 M405.91 491.43L405.24 490.08L403.25 489.40L401.92 489.40L399.92 490.08L398.59 492.10L397.93 495.49L397.93 498.87L398.59 501.57L399.92 502.92L401.92 503.60L402.58 503.60L404.58 502.92L405.91 501.57L406.57 499.54L406.57 498.87L405.91 496.84L404.58 495.49L402.58 494.81L401.92 494.81L399.92 495.49L398.59 496.84L397.93 498.87 M414.55 489.40L412.56 490.08L411.23 492.10L410.56 495.49L410.56 497.51L411.23 500.90L412.56 502.92L414.55 503.60L415.88 503.60L417.88 502.92L419.21 500.90L419.87 497.51L419.87 495.49L419.21 492.10L417.88 490.08L415.88 489.40L414.55 489.40 M427.85 489.40L425.86 490.08L424.53 492.10L423.86 495.49L423.86 497.51L424.53 500.90L425.86 502.92L427.85 503.60L429.18 503.60L431.18 502.92L432.51 500.90L433.17 497.51L433.17 495.49L432.51 492.10L431.18 490.08L429.18 489.40L427.85 489.40 M441.15 489.40L439.16 490.08L437.83 492.10L437.16 495.49L437.16 497.51L437.83 500.90L439.16 502.92L441.15 503.60L442.48 503.60L444.48 502.92L445.81 500.90L446.47 497.51L446.47 495.49L445.81 492.10L444.48 490.08L442.48 489.40L441.15 489.40 M531.90 489.40L525.25 503.60 M522.60 489.40L531.90 489.40 M539.88 489.40L537.89 490.08L536.56 492.10L535.89 495.49L535.89 497.51L536.56 500.90L537.89 502.92L539.88 503.60L541.22 503.60L543.21 502.92L544.54 500.90L545.21 497.51L545.21 495.49L544.54 492.10L543.21 490.08L541.22 489.40L539.88 489.40 M553.19 489.40L551.19 490.08L549.86 492.10L549.20 495.49L549.20 497.51L549.86 500.90L551.19 502.92L553.19 503.60L554.51 503.60L556.51 502.92L557.84 500.90L558.50 497.51L558.50 495.49L557.84 492.10L556.51 490.08L554.51 489.40L553.19 489.40 M566.49 489.40L564.49 490.08L563.16 492.10L562.50 495.49L562.50 497.51L563.16 500.90L564.49 502.92L566.49 503.60L567.82 503.60L569.81 502.92L571.14 500.90L571.81 497.51L571.81 495.49L571.14 492.10L569.81 490.08L567.82 489.40L566.49 489.40 M650.92 489.40L648.93 490.08L648.26 491.43L648.26 492.78L648.93 494.13L650.25 494.81L652.92 495.49L654.91 496.16L656.24 497.51L656.90 498.87L656.90 500.90L656.24 502.25L655.58 502.92L653.58 503.60L650.92 503.60L648.93 502.92L648.26 502.25L647.60 500.90L647.60 498.87L648.26 497.51L649.59 496.16L651.59 495.49L654.25 494.81L655.58 494.13L656.24 492.78L656.24 491.43L655.58 490.08L653.58 489.40L650.92 489.40 M664.88 489.40L662.89 490.08L661.56 492.10L660.89 495.49L660.89 497.51L661.56 500.90L662.89 502.92L664.88 503.60L666.22 503.60L668.21 502.92L669.54 500.90L670.21 497.51L670.21 495.49L669.54 492.10L668.21 490.08L666.22 489.40L664.88 489.40 M678.19 489.40L676.19 490.08L674.86 492.10L674.20 495.49L674.20 497.51L674.86 500.90L676.19 502.92L678.19 503.60L679.51 503.60L681.51 502.92L682.84 500.90L683.50 497.51L683.50 495.49L682.84 492.10L681.51 490.08L679.51 489.40L678.19 489.40 M691.49 489.40L689.49 490.08L688.16 492.10L687.50 495.49L687.50 497.51L688.16 500.90L689.49 502.92L691.49 503.60L692.82 503.60L694.81 502.92L696.14 500.90L696.81 497.51L696.81 495.49L696.14 492.10L694.81 490.08L692.82 489.40L691.49 489.40 M781.24 494.13L780.58 496.16L779.25 497.51L777.25 498.19L776.59 498.19L774.59 497.51L773.26 496.16L772.60 494.13L772.60 493.46L773.26 491.43L774.59 490.08L776.59 489.40L777.25 489.40L779.25 490.08L780.58 491.43L781.24 494.13L781.24 497.51L780.58 500.90L779.25 502.92L777.25 503.60L775.92 503.60L773.93 502.92L773.26 501.57 M789.88 489.40L787.89 490.08L786.56 492.10L785.89 495.49L785.89 497.51L786.56 500.90L787.89 502.92L789.88 503.60L791.22 503.60L793.21 502.92L794.54 500.90L795.21 497.51L795.21 495.49L794.54 492.10L793.21 490.08L791.22 489.40L789.88 489.40 M803.19 489.40L801.19 490.08L799.86 492.10L799.20 495.49L799.20 497.51L799.86 500.90L801.19 502.92L803.19 503.60L804.51 503.60L806.51 502.92L807.84 500.90L808.50 497.51L808.50 495.49L807.84 492.10L806.51 490.08L804.51 489.40L803.19 489.40 M816.49 489.40L814.49 490.08L813.16 492.10L812.50 495.49L812.50 497.51L813.16 500.90L814.49 502.92L816.49 503.60L817.82 503.60L819.81 502.92L821.14 500.90L821.81 497.51L821.81 495.49L821.14 492.10L819.81 490.08L817.82 489.40L816.49 489.40 M121.20 449.70L119.17 450.36L117.83 452.33L117.15 455.61L117.15 457.59L117.83 460.87L119.17 462.84L121.20 463.50L122.55 463.50L124.58 462.84L125.92 460.87L126.60 457.59L126.60 455.61L125.92 452.33L124.58 450.36L122.55 449.70L121.20 449.70 M111.75 368.70L105.00 368.70L104.33 374.61L105.00 373.96L107.03 373.30L109.05 373.30L111.08 373.96L112.42 375.27L113.10 377.24L113.10 378.56L112.42 380.53L111.08 381.84L109.05 382.50L107.03 382.50L105.00 381.84L104.33 381.19L103.65 379.87 M121.20 368.70L119.17 369.36L117.83 371.33L117.15 374.61L117.15 376.59L117.83 379.87L119.17 381.84L121.20 382.50L122.55 382.50L124.58 381.84L125.92 379.87L126.60 376.59L126.60 374.61L125.92 371.33L124.58 369.36L122.55 368.70L121.20 368.70 M92.17 290.33L93.53 289.67L95.55 287.70L95.55 301.50 M107.70 287.70L105.67 288.36L104.33 290.33L103.65 293.61L103.65 295.59L104.33 298.87L105.67 300.84L107.70 301.50L109.05 301.50L111.08 300.84L112.42 298.87L113.10 295.59L113.10 293.61L112.42 290.33L111.08 288.36L109.05 287.70L107.70 287.70 M121.20 287.70L119.17 288.36L117.83 290.33L117.15 293.61L117.15 295.59L117.83 298.87L119.17 300.84L121.20 301.50L122.55 301.50L124.58 300.84L125.92 298.87L126.60 295.59L126.60 293.61L125.92 290.33L124.58 288.36L122.55 287.70L121.20 287.70 M92.17 208.33L93.53 207.67L95.55 205.70L95.55 219.50 M111.75 205.70L105.00 205.70L104.33 211.61L105.00 210.96L107.03 210.30L109.05 210.30L111.08 210.96L112.42 212.27L113.10 214.24L113.10 215.56L112.42 217.53L111.08 218.84L109.05 219.50L107.03 219.50L105.00 218.84L104.33 218.19L103.65 216.87 M121.20 205.70L119.17 206.36L117.83 208.33L117.15 211.61L117.15 213.59L117.83 216.87L119.17 218.84L121.20 219.50L122.55 219.50L124.58 218.84L125.92 216.87L126.60 213.59L126.60 211.61L125.92 208.33L124.58 206.36L122.55 205.70L121.20 205.70 M90.83 127.99L90.83 127.33L91.50 126.01L92.17 125.36L93.53 124.70L96.22 124.70L97.58 125.36L98.25 126.01L98.92 127.33L98.92 128.64L98.25 129.96L96.90 131.93L90.15 138.50L99.60 138.50 M107.70 124.70L105.67 125.36L104.33 127.33L103.65 130.61L103.65 132.59L104.33 135.87L105.67 137.84L107.70 138.50L109.05 138.50L111.08 137.84L112.42 135.87L113.10 132.59L113.10 130.61L112.42 127.33L111.08 125.36L109.05 124.70L107.70 124.70 M121.20 124.70L119.17 125.36L117.83 127.33L117.15 130.61L117.15 132.59L117.83 135.87L119.17 137.84L121.20 138.50L122.55 138.50L124.58 137.84L125.92 135.87L126.60 132.59L126.60 130.61L125.92 127.33L124.58 125.36L122.55 124.70L121.20 124.70 M90.83 46.99L90.83 46.33L91.50 45.01L92.17 44.36L93.53 43.70L96.22 43.70L97.58 44.36L98.25 45.01L98.92 46.33L98.92 47.64L98.25 48.96L96.90 50.93L90.15 57.50L99.60 57.50 M111.75 43.70L105.00 43.70L104.33 49.61L105.00 48.96L107.03 48.30L109.05 48.30L111.08 48.96L112.42 50.27L113.10 52.24L113.10 53.56L112.42 55.53L111.08 56.84L109.05 57.50L107.03 57.50L105.00 56.84L104.33 56.19L103.65 54.87 M121.20 43.70L119.17 44.36L117.83 46.33L117.15 49.61L117.15 51.59L117.83 54.87L119.17 56.84L121.20 57.50L122.55 57.50L124.58 56.84L125.92 54.87L126.60 51.59L126.60 49.61L125.92 46.33L124.58 44.36L122.55 43.70L121.20 43.70 M392.43 515.40L394.87 529.00 M393.04 515.40L394.87 525.76 M397.30 515.40L394.87 529.00 M397.30 515.40L399.74 529.00 M397.91 515.40L399.74 525.76 M402.18 515.40L399.74 529.00 M390.60 515.40L394.87 515.40 M400.35 515.40L404.01 515.40 M407.94 519.79L407.94 520.56L407.28 520.56L407.28 519.79L407.94 519.02L409.27 518.26L411.93 518.26L413.26 519.02L413.92 519.79L414.59 521.33L414.59 526.70L415.25 528.23L415.92 529.00 M413.92 519.79L413.92 526.70L414.59 528.23L415.92 529.00L416.58 529.00 M413.92 521.33L413.26 522.09L409.27 522.86L407.28 523.63L406.61 525.16L406.61 526.70L407.28 528.23L409.27 529.00L411.27 529.00L412.60 528.23L413.92 526.70 M409.27 522.86L407.94 523.63L407.28 525.16L407.28 526.70L407.94 528.23L409.27 529.00 M419.91 518.26L423.90 529.00 M420.57 518.26L423.90 527.47 M427.89 518.26L423.90 529.00 M418.58 518.26L422.57 518.26 M425.23 518.26L429.22 518.26 M432.54 522.86L440.52 522.86L440.52 521.33L439.85 519.79L439.19 519.02L437.86 518.26L435.86 518.26L433.87 519.02L432.54 520.56L431.88 522.86L431.88 524.40L432.54 526.70L433.87 528.23L435.86 529.00L437.19 529.00L439.19 528.23L440.52 526.70 M439.85 522.86L439.85 520.56L439.19 519.02 M435.86 518.26L434.53 519.02L433.20 520.56L432.54 522.86L432.54 524.40L433.20 526.70L434.53 528.23L435.86 529.00 M445.84 515.40L445.84 529.00 M446.50 515.40L446.50 529.00 M443.84 515.40L446.50 515.40 M443.84 529.00L448.50 529.00 M452.49 522.86L460.46 522.86L460.46 521.33L459.80 519.79L459.13 519.02L457.80 518.26L455.81 518.26L453.81 519.02L452.49 520.56L451.82 522.86L451.82 524.40L452.49 526.70L453.81 528.23L455.81 529.00L457.14 529.00L459.13 528.23L460.46 526.70 M459.80 522.86L459.80 520.56L459.13 519.02 M455.81 518.26L454.48 519.02L453.15 520.56L452.49 522.86L452.49 524.40L453.15 526.70L454.48 528.23L455.81 529.00 M465.78 518.26L465.78 529.00 M466.45 518.26L466.45 529.00 M466.45 520.56L467.78 519.02L469.77 518.26L471.10 518.26L473.10 519.02L473.76 520.56L473.76 529.00 M471.10 518.26L472.43 519.02L473.10 520.56L473.10 529.00 M463.79 518.26L466.45 518.26 M463.79 529.00L468.44 529.00 M471.10 529.00L475.75 529.00 M482.40 518.26L481.07 519.02L480.41 519.79L479.74 521.33L479.74 522.86L480.41 524.40L481.07 525.16L482.40 525.93L483.73 525.93L485.06 525.16L485.73 524.40L486.39 522.86L486.39 521.33L485.73 519.79L485.06 519.02L483.73 518.26L482.40 518.26 M481.07 519.02L480.41 520.56L480.41 523.63L481.07 525.16 M485.06 525.16L485.73 523.63L485.73 520.56L485.06 519.02 M485.73 519.79L486.39 519.02L487.72 518.26L487.72 519.02L486.39 519.02 M480.41 524.40L479.74 525.16L479.08 526.70L479.08 527.47L479.74 529.00L481.74 529.77L485.06 529.77L487.06 530.53L487.72 531.30 M479.08 527.47L479.74 528.23L481.74 529.00L485.06 529.00L487.06 529.77L487.72 531.30L487.72 532.07L487.06 533.60L485.06 534.37L481.07 534.37L479.08 533.60L478.41 532.07L478.41 531.30L479.08 529.77L481.07 529.00 M493.04 515.40L493.04 525.93L493.71 528.23L495.03 529.00L496.36 529.00L497.69 528.23L498.36 526.70 M493.71 515.40L493.71 525.93L494.37 528.23L495.03 529.00 M491.05 518.26L496.36 518.26 M503.01 515.40L503.01 529.00 M503.68 515.40L503.68 529.00 M503.68 520.56L505.01 519.02L507.00 518.26L508.33 518.26L510.33 519.02L510.99 520.56L510.99 529.00 M508.33 518.26L509.66 519.02L510.33 520.56L510.33 529.00 M501.02 515.40L503.68 515.40 M501.02 529.00L505.67 529.00 M508.33 529.00L512.99 529.00 M533.21 512.81L531.99 514.10L530.77 516.05L529.55 518.64L528.94 521.88L528.94 524.47L529.55 527.70L530.77 530.30L531.99 532.24L533.21 533.53 M531.99 514.10L530.77 516.70L530.16 518.64L529.55 521.88L529.55 524.47L530.16 527.70L530.77 529.65L531.99 532.24 M540.52 515.40L535.65 529.00 M540.52 515.40L545.40 529.00 M537.47 524.47L543.57 524.47 M540.52 512.16L539.61 512.81L539.61 513.78L540.52 514.43L541.43 513.78L541.43 512.81L540.52 512.16 M547.83 512.81L549.05 514.10L550.27 516.05L551.49 518.64L552.10 521.88L552.10 524.47L551.49 527.70L550.27 530.30L549.05 532.24L547.83 533.53 M549.05 514.10L550.27 516.70L550.88 518.64L551.49 521.88L551.49 524.47L550.88 527.70L550.27 529.65L549.05 532.24 M56.80 337.96L70.40 337.96 M56.80 337.35L70.40 337.35 M60.69 333.67L65.87 333.67 M56.80 339.80L56.80 329.98L60.69 329.98L56.80 330.60 M63.28 337.35L63.28 333.67 M70.40 339.80L70.40 335.51 M56.80 325.41L70.40 325.41 M56.80 324.74L70.40 324.74 M56.80 327.42L56.80 324.74 M70.40 327.42L70.40 322.74 M59.66 318.05L68.10 318.05L69.63 317.38L70.40 315.37L70.40 314.04L69.63 312.03L68.10 310.69 M59.66 317.38L68.10 317.38L69.63 316.71L70.40 315.37 M59.66 310.69L70.40 310.69 M59.66 310.02L70.40 310.02 M59.66 320.06L59.66 317.38 M59.66 312.70L59.66 310.02 M70.40 310.69L70.40 308.01 M59.66 304.00L70.40 296.64 M59.66 303.33L70.40 295.97 M59.66 295.97L70.40 304.00 M59.66 305.34L59.66 301.32 M59.66 298.64L59.66 294.63 M70.40 305.34L70.40 301.32 M70.40 298.64L70.40 294.63 M54.21 274.27L55.50 275.50L57.45 276.73L60.04 277.95L63.28 278.57L65.87 278.57L69.10 277.95L71.70 276.73L73.64 275.50L74.93 274.27 M55.50 275.50L58.10 276.73L60.04 277.34L63.28 277.95L65.87 277.95L69.10 277.34L71.05 276.73L73.64 275.50 M59.66 269.09L70.40 269.09 M59.66 268.42L70.40 268.42 M64.26 268.42L61.96 267.75L60.42 266.41L59.66 265.07L59.66 263.06L60.42 262.39L61.19 262.39L61.96 263.06L61.19 263.73L60.42 263.06 M59.66 271.09L59.66 268.42 M70.40 271.09L70.40 266.41 M64.26 258.38L64.26 250.35L62.73 250.35L61.19 251.02L60.42 251.69L59.66 253.03L59.66 255.03L60.42 257.04L61.96 258.38L64.26 259.05L65.80 259.05L68.10 258.38L69.63 257.04L70.40 255.03L70.40 253.69L69.63 251.69L68.10 250.35 M64.26 251.02L61.96 251.02L60.42 251.69 M59.66 255.03L60.42 256.37L61.96 257.71L64.26 258.38L65.80 258.38L68.10 257.71L69.63 256.37L70.40 255.03 M56.80 244.99L70.40 244.99 M56.80 244.33L70.40 244.33 M56.80 247.00L56.80 244.33 M70.40 247.00L70.40 242.32 M61.19 237.63L61.96 237.63L61.96 238.30L61.19 238.30L60.42 237.63L59.66 236.29L59.66 233.62L60.42 232.28L61.19 231.61L62.73 230.94L68.10 230.94L69.63 230.27L70.40 229.60 M61.19 231.61L68.10 231.61L69.63 230.94L70.40 229.60L70.40 228.93 M62.73 231.61L63.49 232.28L64.26 236.29L65.03 238.30L66.56 238.97L68.10 238.97L69.63 238.30L70.40 236.29L70.40 234.29L69.63 232.95L68.10 231.61 M64.26 236.29L65.03 237.63L66.56 238.30L68.10 238.30L69.63 237.63L70.40 236.29 M56.80 224.25L67.33 224.25L69.63 223.58L70.40 222.24L70.40 220.90L69.63 219.56L68.10 218.90 M56.80 223.58L67.33 223.58L69.63 222.91L70.40 222.24 M59.66 226.26L59.66 220.90 M56.80 214.21L57.21 214.88L57.62 214.21L57.21 213.54L56.80 214.21 M59.66 214.21L70.40 214.21 M59.66 213.54L70.40 213.54 M59.66 216.22L59.66 213.54 M70.40 216.22L70.40 211.53 M59.66 208.19L70.40 204.17 M59.66 207.52L68.87 204.17 M59.66 200.16L70.40 204.17 M59.66 209.53L59.66 205.51 M59.66 202.83L59.66 198.82 M64.26 195.47L64.26 187.44L62.73 187.44L61.19 188.11L60.42 188.78L59.66 190.12L59.66 192.13L60.42 194.13L61.96 195.47L64.26 196.14L65.80 196.14L68.10 195.47L69.63 194.13L70.40 192.13L70.40 190.79L69.63 188.78L68.10 187.44 M64.26 188.11L61.96 188.11L60.42 188.78 M59.66 192.13L60.42 193.47L61.96 194.80L64.26 195.47L65.80 195.47L68.10 194.80L69.63 193.47L70.40 192.13 M54.21 183.59L55.50 182.37L57.45 181.14L60.04 179.91L63.28 179.30L65.87 179.30L69.10 179.91L71.70 181.14L73.64 182.37L74.93 183.59 M55.50 182.37L58.10 181.14L60.04 180.53L63.28 179.91L65.87 179.91L69.10 180.53L71.05 181.14L73.64 182.37 M143.81 581.28L143.18 582.04L143.81 582.79L144.44 582.04L144.44 581.28L143.18 579.77L141.91 579.01L140.01 579.01L138.10 579.77L136.83 581.28L136.20 583.55L136.20 585.06L136.83 587.33L138.10 588.84L140.01 589.60L141.27 589.60L143.18 588.84L144.44 587.33 M140.01 579.01L138.74 579.77L137.47 581.28L136.83 583.55L136.83 585.06L137.47 587.33L138.74 588.84L140.01 589.60 M155.23 579.01L148.25 589.60 M155.86 579.01L148.88 589.60 M148.88 579.01L148.25 582.04L148.25 579.01L155.86 579.01 M148.25 589.60L155.86 589.60L155.86 586.58L155.23 589.60 M168.52 581.56L181.89 581.56 M168.52 586.15L181.89 586.15 M193.63 583.86L203.28 583.86 M206.59 578.75L207.17 579.39L206.59 580.03L206.01 579.39L206.01 578.75L206.59 577.48L207.17 576.84L208.92 576.20L211.24 576.20L212.99 576.84L213.57 577.48L214.15 578.75L214.15 580.03L213.57 581.30L211.82 582.58L208.92 583.86L207.76 584.50L206.59 585.77L206.01 587.69L206.01 589.60 M211.24 576.20L212.41 576.84L212.99 577.48L213.57 578.75L213.57 580.03L212.99 581.30L211.24 582.58L208.92 583.86 M206.01 588.32L206.59 587.69L207.76 587.69L210.66 588.96L212.41 588.96L213.57 588.32L214.15 587.69 M207.76 587.69L210.66 589.60L212.99 589.60L213.57 588.96L214.15 587.69L214.15 586.41 M218.80 588.32L218.22 588.96L218.80 589.60L219.38 588.96L218.80 588.32 M224.03 578.75L224.61 579.39L224.03 580.03L223.45 579.39L223.45 578.75L224.03 577.48L224.61 576.84L226.36 576.20L228.68 576.20L230.43 576.84L231.01 578.11L231.01 580.03L230.43 581.30L228.68 581.94L226.94 581.94 M228.68 576.20L229.85 576.84L230.43 578.11L230.43 580.03L229.85 581.30L228.68 581.94 M228.68 581.94L229.85 582.58L231.01 583.86L231.59 585.13L231.59 587.05L231.01 588.32L230.43 588.96L228.68 589.60L226.36 589.60L224.61 588.96L224.03 588.32L223.45 587.05L223.45 586.41L224.03 585.77L224.61 586.41L224.03 587.05 M230.43 583.22L231.01 585.13L231.01 587.05L230.43 588.32L229.85 588.96L228.68 589.60 M250.77 577.48L250.77 587.69 M245.54 582.58L256.00 582.58 M245.54 589.60L256.00 589.60 M271.70 578.75L272.86 578.11L274.61 576.20L274.61 589.60 M274.03 576.84L274.03 589.60 M271.70 589.60L276.93 589.60 M282.16 578.75L282.75 579.39L282.16 580.03L281.58 579.39L281.58 578.75L282.16 577.48L282.75 576.84L284.49 576.20L286.81 576.20L288.56 576.84L289.14 578.11L289.14 580.03L288.56 581.30L286.81 581.94L285.07 581.94 M286.81 576.20L287.98 576.84L288.56 578.11L288.56 580.03L287.98 581.30L286.81 581.94 M286.81 581.94L287.98 582.58L289.14 583.86L289.72 585.13L289.72 587.05L289.14 588.32L288.56 588.96L286.81 589.60L284.49 589.60L282.75 588.96L282.16 588.32L281.58 587.05L281.58 586.41L282.16 585.77L282.75 586.41L282.16 587.05 M288.56 583.22L289.14 585.13L289.14 587.05L288.56 588.32L287.98 588.96L286.81 589.60 M294.37 588.32L293.79 588.96L294.37 589.60L294.95 588.96L294.37 588.32 M299.02 576.20L299.02 580.03 M299.02 578.75L299.60 577.48L300.77 576.20L301.93 576.20L304.84 578.11L306.00 578.11L306.58 577.48L307.16 576.20 M299.60 577.48L300.77 576.84L301.93 576.84L304.84 578.11 M307.16 576.20L307.16 578.11L306.58 580.03L304.25 583.22L303.67 584.50L303.09 586.41L303.09 589.60 M306.58 580.03L303.67 583.22L303.09 584.50L302.51 586.41L302.51 589.60 M321.96 576.20L321.96 589.60 M322.59 576.20L322.59 589.60 M328.93 579.01L322.59 586.58 M325.76 583.55L329.57 589.60 M325.13 583.55L328.93 589.60 M320.06 576.20L322.59 576.20 M327.03 579.01L330.84 579.01 M320.06 589.60L324.50 589.60 M327.03 589.60L330.84 589.60 M335.28 579.01L335.28 589.60 M335.91 579.01L335.91 589.60 M335.91 581.28L337.18 579.77L339.08 579.01L340.35 579.01L342.25 579.77L342.89 581.28L342.89 589.60 M340.35 579.01L341.62 579.77L342.25 581.28L342.25 589.60 M342.89 581.28L344.15 579.77L346.06 579.01L347.33 579.01L349.23 579.77L349.86 581.28L349.86 589.60 M347.33 579.01L348.59 579.77L349.23 581.28L349.23 589.60 M333.37 579.01L335.91 579.01 M333.37 589.60L337.81 589.60 M340.35 589.60L344.79 589.60 M347.33 589.60L351.76 589.60 M364.66 573.65L354.20 594.07 M374.07 580.53L374.70 579.01L374.70 582.04L374.07 580.53L373.43 579.77L372.16 579.01L369.63 579.01L368.36 579.77L367.72 580.53L367.72 582.04L368.36 582.79L369.63 583.55L372.80 585.06L374.07 585.82L374.70 586.58 M367.72 581.28L368.36 582.04L369.63 582.79L372.80 584.31L374.07 585.06L374.70 585.82L374.70 588.09L374.07 588.84L372.80 589.60L370.26 589.60L368.99 588.84L368.36 588.09L367.72 586.58L367.72 589.60L368.36 588.09 M137.17 607.10L137.17 620.50 M137.77 607.10L137.77 620.50 M135.40 607.10L142.50 607.10L144.27 607.74L144.86 608.38L145.45 609.65L145.45 610.93L144.86 612.20L144.27 612.84L142.50 613.48L137.77 613.48 M142.50 607.10L143.68 607.74L144.27 608.38L144.86 609.65L144.86 610.93L144.27 612.20L143.68 612.84L142.50 613.48 M135.40 620.50L139.54 620.50 M140.72 613.48L141.91 614.12L142.50 614.76L144.27 619.22L144.86 619.86L145.45 619.86L146.05 619.22 M141.91 614.12L142.50 615.40L143.68 619.86L144.27 620.50L145.45 620.50L146.05 619.22L146.05 618.59 M153.14 607.10L149.00 620.50 M153.14 607.10L157.28 620.50 M153.14 609.01L156.69 620.50 M150.19 616.67L155.51 616.67 M147.82 620.50L151.37 620.50 M154.92 620.50L158.47 620.50 M170.00 612.46L183.60 612.46 M170.00 617.05L183.60 617.05 M196.91 609.65L197.50 610.29L196.91 610.93L196.32 610.29L196.32 609.65L196.91 608.38L197.50 607.74L199.28 607.10L201.64 607.10L203.42 607.74L204.01 608.38L204.60 609.65L204.60 610.93L204.01 612.20L202.23 613.48L199.28 614.76L198.09 615.40L196.91 616.67L196.32 618.59L196.32 620.50 M201.64 607.10L202.83 607.74L203.42 608.38L204.01 609.65L204.01 610.93L203.42 612.20L201.64 613.48L199.28 614.76 M196.32 619.22L196.91 618.59L198.09 618.59L201.05 619.86L202.83 619.86L204.01 619.22L204.60 618.59 M198.09 618.59L201.05 620.50L203.42 620.50L204.01 619.86L204.60 618.59L204.60 617.31 M211.11 607.10L209.33 607.74L208.74 609.01L208.74 610.93L209.33 612.20L211.11 612.84L213.47 612.84L215.25 612.20L215.84 610.93L215.84 609.01L215.25 607.74L213.47 607.10L211.11 607.10 M211.11 607.10L209.92 607.74L209.33 609.01L209.33 610.93L209.92 612.20L211.11 612.84 M213.47 612.84L214.65 612.20L215.25 610.93L215.25 609.01L214.65 607.74L213.47 607.10 M211.11 612.84L209.33 613.48L208.74 614.12L208.15 615.40L208.15 617.95L208.74 619.22L209.33 619.86L211.11 620.50L213.47 620.50L215.25 619.86L215.84 619.22L216.43 617.95L216.43 615.40L215.84 614.12L215.25 613.48L213.47 612.84 M211.11 612.84L209.92 613.48L209.33 614.12L208.74 615.40L208.74 617.95L209.33 619.22L209.92 619.86L211.11 620.50 M213.47 620.50L214.65 619.86L215.25 619.22L215.84 617.95L215.84 615.40L215.25 614.12L214.65 613.48L213.47 612.84 M222.94 607.10L221.16 607.74L220.57 609.01L220.57 610.93L221.16 612.20L222.94 612.84L225.30 612.84L227.08 612.20L227.67 610.93L227.67 609.01L227.08 607.74L225.30 607.10L222.94 607.10 M222.94 607.10L221.75 607.74L221.16 609.01L221.16 610.93L221.75 612.20L222.94 612.84 M225.30 612.84L226.48 612.20L227.08 610.93L227.08 609.01L226.48 607.74L225.30 607.10 M222.94 612.84L221.16 613.48L220.57 614.12L219.98 615.40L219.98 617.95L220.57 619.22L221.16 619.86L222.94 620.50L225.30 620.50L227.08 619.86L227.67 619.22L228.26 617.95L228.26 615.40L227.67 614.12L227.08 613.48L225.30 612.84 M222.94 612.84L221.75 613.48L221.16 614.12L220.57 615.40L220.57 617.95L221.16 619.22L221.75 619.86L222.94 620.50 M225.30 620.50L226.48 619.86L227.08 619.22L227.67 617.95L227.67 615.40L227.08 614.12L226.48 613.48L225.30 612.84 M232.99 619.22L232.40 619.86L232.99 620.50L233.58 619.86L232.99 619.22 M238.31 609.65L238.90 610.29L238.31 610.93L237.72 610.29L237.72 609.65L238.31 608.38L238.90 607.74L240.68 607.10L243.04 607.10L244.82 607.74L245.41 609.01L245.41 610.93L244.82 612.20L243.04 612.84L241.27 612.84 M243.04 607.10L244.23 607.74L244.82 609.01L244.82 610.93L244.23 612.20L243.04 612.84 M243.04 612.84L244.23 613.48L245.41 614.76L246.00 616.03L246.00 617.95L245.41 619.22L244.82 619.86L243.04 620.50L240.68 620.50L238.90 619.86L238.31 619.22L237.72 617.95L237.72 617.31L238.31 616.67L238.90 617.31L238.31 617.95 M244.82 614.12L245.41 616.03L245.41 617.95L244.82 619.22L244.23 619.86L243.04 620.50 M254.87 608.38L254.87 620.50 M255.46 607.10L255.46 620.50 M255.46 607.10L248.96 616.67L258.42 616.67 M253.10 620.50L257.24 620.50 M269.07 611.57L268.48 613.48L267.29 614.76L265.52 615.40L264.93 615.40L263.15 614.76L261.97 613.48L261.38 611.57L261.38 610.93L261.97 609.01L263.15 607.74L264.93 607.10L266.11 607.10L267.89 607.74L269.07 609.01L269.66 610.93L269.66 614.76L269.07 617.31L268.48 618.59L267.29 619.86L265.52 620.50L263.75 620.50L262.56 619.86L261.97 618.59L261.97 617.95L262.56 617.31L263.15 617.95L262.56 618.59 M264.93 615.40L263.75 614.76L262.56 613.48L261.97 611.57L261.97 610.93L262.56 609.01L263.75 607.74L264.93 607.10 M266.11 607.10L267.29 607.74L268.48 609.01L269.07 610.93L269.07 614.76L268.48 617.31L267.89 618.59L266.70 619.86L265.52 620.50 M276.17 607.10L274.39 607.74L273.80 609.01L273.80 610.93L274.39 612.20L276.17 612.84L278.53 612.84L280.31 612.20L280.90 610.93L280.90 609.01L280.31 607.74L278.53 607.10L276.17 607.10 M276.17 607.10L274.98 607.74L274.39 609.01L274.39 610.93L274.98 612.20L276.17 612.84 M278.53 612.84L279.71 612.20L280.31 610.93L280.31 609.01L279.71 607.74L278.53 607.10 M276.17 612.84L274.39 613.48L273.80 614.12L273.21 615.40L273.21 617.95L273.80 619.22L274.39 619.86L276.17 620.50L278.53 620.50L280.31 619.86L280.90 619.22L281.49 617.95L281.49 615.40L280.90 614.12L280.31 613.48L278.53 612.84 M276.17 612.84L274.98 613.48L274.39 614.12L273.80 615.40L273.80 617.95L274.39 619.22L274.98 619.86L276.17 620.50 M278.53 620.50L279.71 619.86L280.31 619.22L280.90 617.95L280.90 615.40L280.31 614.12L279.71 613.48L278.53 612.84 M285.04 607.10L285.04 610.93 M285.04 609.65L285.63 608.38L286.81 607.10L287.99 607.10L290.95 609.01L292.14 609.01L292.73 608.38L293.32 607.10 M285.63 608.38L286.81 607.74L287.99 607.74L290.95 609.01 M293.32 607.10L293.32 609.01L292.73 610.93L290.36 614.12L289.77 615.40L289.18 617.31L289.18 620.50 M292.73 610.93L289.77 614.12L289.18 615.40L288.59 617.31L288.59 620.50 M298.64 619.86L298.05 620.50L297.46 619.86L298.05 619.22L298.64 619.86L298.64 621.14L298.05 622.41L297.46 623.05 M314.02 607.10L314.02 620.50 M314.61 607.10L314.61 620.50 M312.24 607.10L318.16 607.10L319.93 607.74L321.12 609.01L321.71 610.29L322.30 612.20L322.30 615.40L321.71 617.31L321.12 618.59L319.93 619.86L318.16 620.50L312.24 620.50 M318.16 607.10L319.34 607.74L320.52 609.01L321.12 610.29L321.71 612.20L321.71 615.40L321.12 617.31L320.52 618.59L319.34 619.86L318.16 620.50 M327.03 607.10L327.03 620.50 M327.62 607.10L327.62 620.50 M331.17 610.93L331.17 616.03 M325.26 607.10L334.72 607.10L334.72 610.93L334.13 607.10 M327.62 613.48L331.17 613.48 M325.26 620.50L334.72 620.50L334.72 616.67L334.13 620.50 M346.55 609.01L347.14 610.93L347.14 607.10L346.55 609.01L345.37 607.74L343.59 607.10L342.41 607.10L340.63 607.74L339.45 609.01L338.86 610.29L338.27 612.20L338.27 615.40L338.86 617.31L339.45 618.59L340.63 619.86L342.41 620.50L343.59 620.50L345.37 619.86L346.55 618.59L347.14 617.31 M342.41 607.10L341.23 607.74L340.04 609.01L339.45 610.29L338.86 612.20L338.86 615.40L339.45 617.31L340.04 618.59L341.23 619.86L342.41 620.50 M359.86 612.46L373.46 612.46 M359.86 617.05L373.46 617.05 M401.55 608.38L401.55 620.50 M402.15 607.10L402.15 620.50 M402.15 607.10L395.64 616.67L405.10 616.67 M399.78 620.50L403.92 620.50 M411.61 607.10L409.83 607.74L408.65 609.65L408.06 612.84L408.06 614.76L408.65 617.95L409.83 619.86L411.61 620.50L412.79 620.50L414.57 619.86L415.75 617.95L416.34 614.76L416.34 612.84L415.75 609.65L414.57 607.74L412.79 607.10L411.61 607.10 M411.61 607.10L410.43 607.74L409.83 608.38L409.24 609.65L408.65 612.84L408.65 614.76L409.24 617.95L409.83 619.22L410.43 619.86L411.61 620.50 M412.79 620.50L413.97 619.86L414.57 619.22L415.16 617.95L415.75 614.76L415.75 612.84L415.16 609.65L414.57 608.38L413.97 607.74L412.79 607.10 M421.07 619.22L420.48 619.86L421.07 620.50L421.66 619.86L421.07 619.22 M431.13 608.38L431.13 620.50 M431.72 607.10L431.72 620.50 M431.72 607.10L425.21 616.67L434.68 616.67 M429.35 620.50L433.49 620.50 M437.63 607.10L437.63 610.93 M437.63 609.65L438.22 608.38L439.41 607.10L440.59 607.10L443.55 609.01L444.73 609.01L445.32 608.38L445.91 607.10 M438.22 608.38L439.41 607.74L440.59 607.74L443.55 609.01 M445.91 607.10L445.91 609.01L445.32 610.93L442.96 614.12L442.36 615.40L441.77 617.31L441.77 620.50 M445.32 610.93L442.36 614.12L441.77 615.40L441.18 617.31L441.18 620.50 M450.64 607.10L449.46 613.48 M449.46 613.48L450.64 612.20L452.42 611.57L454.19 611.57L455.97 612.20L457.15 613.48L457.74 615.40L457.74 616.67L457.15 618.59L455.97 619.86L454.19 620.50L452.42 620.50L450.64 619.86L450.05 619.22L449.46 617.95L449.46 617.31L450.05 616.67L450.64 617.31L450.05 617.95 M454.19 611.57L455.38 612.20L456.56 613.48L457.15 615.40L457.15 616.67L456.56 618.59L455.38 619.86L454.19 620.50 M450.64 607.10L456.56 607.10 M450.64 607.74L453.60 607.74L456.56 607.10 M462.47 607.10L461.29 613.48 M461.29 613.48L462.47 612.20L464.25 611.57L466.02 611.57L467.80 612.20L468.98 613.48L469.57 615.40L469.57 616.67L468.98 618.59L467.80 619.86L466.02 620.50L464.25 620.50L462.47 619.86L461.88 619.22L461.29 617.95L461.29 617.31L461.88 616.67L462.47 617.31L461.88 617.95 M466.02 611.57L467.21 612.20L468.39 613.48L468.98 615.40L468.98 616.67L468.39 618.59L467.21 619.86L466.02 620.50 M462.47 607.10L468.39 607.10 M462.47 607.74L465.43 607.74L468.39 607.10 M476.08 607.10L474.30 607.74L473.71 609.01L473.71 610.93L474.30 612.20L476.08 612.84L478.44 612.84L480.22 612.20L480.81 610.93L480.81 609.01L480.22 607.74L478.44 607.10L476.08 607.10 M476.08 607.10L474.89 607.74L474.30 609.01L474.30 610.93L474.89 612.20L476.08 612.84 M478.44 612.84L479.63 612.20L480.22 610.93L480.22 609.01L479.63 607.74L478.44 607.10 M476.08 612.84L474.30 613.48L473.71 614.12L473.12 615.40L473.12 617.95L473.71 619.22L474.30 619.86L476.08 620.50L478.44 620.50L480.22 619.86L480.81 619.22L481.40 617.95L481.40 615.40L480.81 614.12L480.22 613.48L478.44 612.84 M476.08 612.84L474.89 613.48L474.30 614.12L473.71 615.40L473.71 617.95L474.30 619.22L474.89 619.86L476.08 620.50 M478.44 620.50L479.63 619.86L480.22 619.22L480.81 617.95L480.81 615.40L480.22 614.12L479.63 613.48L478.44 612.84 M612.63 576.20L610.86 576.84L609.68 578.11L609.09 579.39L608.50 581.94L608.50 583.86L609.09 586.41L609.68 587.69L610.86 588.96L612.63 589.60L613.82 589.60L615.59 588.96L616.77 587.69L617.36 586.41L617.95 583.86L617.95 581.94L617.36 579.39L616.77 578.11L615.59 576.84L613.82 576.20L612.63 576.20 M612.63 576.20L611.45 576.84L610.27 578.11L609.68 579.39L609.09 581.94L609.09 583.86L609.68 586.41L610.27 587.69L611.45 588.96L612.63 589.60 M613.82 589.60L615.00 588.96L616.18 587.69L616.77 586.41L617.36 583.86L617.36 581.94L616.77 579.39L616.18 578.11L615.00 576.84L613.82 576.20 M622.94 576.20L622.94 589.60 M623.59 576.20L623.59 589.60 M623.59 581.28L624.88 579.77L626.17 579.01L627.46 579.01L629.39 579.77L630.68 581.28L631.32 583.55L631.32 585.06L630.68 587.33L629.39 588.84L627.46 589.60L626.17 589.60L624.88 588.84L623.59 587.33 M627.46 579.01L628.74 579.77L630.03 581.28L630.68 583.55L630.68 585.06L630.03 587.33L628.74 588.84L627.46 589.60 M621.01 576.20L623.59 576.20 M641.63 580.53L642.28 579.01L642.28 582.04L641.63 580.53L640.99 579.77L639.70 579.01L637.12 579.01L635.83 579.77L635.19 580.53L635.19 582.04L635.83 582.79L637.12 583.55L640.34 585.06L641.63 585.82L642.28 586.58 M635.19 581.28L635.83 582.04L637.12 582.79L640.34 584.31L641.63 585.06L642.28 585.82L642.28 588.09L641.63 588.84L640.34 589.60L637.77 589.60L636.48 588.84L635.83 588.09L635.19 586.58L635.19 589.60L635.83 588.09 M645.21 583.86L655.02 583.86 M658.98 576.20L658.98 589.60 M659.57 576.20L659.57 589.60 M657.20 576.20L663.11 576.20L664.88 576.84L666.06 578.11L666.66 579.39L667.25 581.30L667.25 584.50L666.66 586.41L666.06 587.69L664.88 588.96L663.11 589.60L657.20 589.60 M663.11 576.20L664.29 576.84L665.47 578.11L666.06 579.39L666.66 581.30L666.66 584.50L666.06 586.41L665.47 587.69L664.29 588.96L663.11 589.60 M672.24 580.53L672.24 581.28L671.60 581.28L671.60 580.53L672.24 579.77L673.53 579.01L676.11 579.01L677.39 579.77L678.04 580.53L678.68 582.04L678.68 587.33L679.33 588.84L679.97 589.60 M678.04 580.53L678.04 587.33L678.68 588.84L679.97 589.60L680.62 589.60 M678.04 582.04L677.39 582.79L673.53 583.55L671.60 584.31L670.95 585.82L670.95 587.33L671.60 588.84L673.53 589.60L675.46 589.60L676.75 588.84L678.04 587.33 M673.53 583.55L672.24 584.31L671.60 585.82L671.60 587.33L672.24 588.84L673.53 589.60 M685.13 576.20L685.13 586.58L685.77 588.84L687.06 589.60L688.35 589.60L689.64 588.84L690.28 587.33 M685.77 576.20L685.77 586.58L686.42 588.84L687.06 589.60 M683.19 579.01L688.35 579.01 M694.15 583.55L701.88 583.55L701.88 582.04L701.24 580.53L700.59 579.77L699.30 579.01L697.37 579.01L695.44 579.77L694.15 581.28L693.50 583.55L693.50 585.06L694.15 587.33L695.44 588.84L697.37 589.60L698.66 589.60L700.59 588.84L701.88 587.33 M701.24 583.55L701.24 581.28L700.59 579.77 M697.37 579.01L696.08 579.77L694.79 581.28L694.15 583.55L694.15 585.06L694.79 587.33L696.08 588.84L697.37 589.60 M706.77 580.67L706.18 581.30L706.77 581.94L707.36 581.30L706.77 580.67 M706.77 588.32L706.18 588.96L706.77 589.60L707.36 588.96L706.77 588.32 M722.13 578.75L722.72 579.39L722.13 580.03L721.54 579.39L721.54 578.75L722.13 577.48L722.72 576.84L724.49 576.20L726.85 576.20L728.62 576.84L729.21 577.48L729.80 578.75L729.80 580.03L729.21 581.30L727.44 582.58L724.49 583.86L723.31 584.50L722.13 585.77L721.54 587.69L721.54 589.60 M726.85 576.20L728.03 576.84L728.62 577.48L729.21 578.75L729.21 580.03L728.62 581.30L726.85 582.58L724.49 583.86 M721.54 588.32L722.13 587.69L723.31 587.69L726.26 588.96L728.03 588.96L729.21 588.32L729.80 587.69 M723.31 587.69L726.26 589.60L728.62 589.60L729.21 588.96L729.80 587.69L729.80 586.41 M736.89 576.20L735.12 576.84L733.94 578.75L733.35 581.94L733.35 583.86L733.94 587.05L735.12 588.96L736.89 589.60L738.07 589.60L739.85 588.96L741.03 587.05L741.62 583.86L741.62 581.94L741.03 578.75L739.85 576.84L738.07 576.20L736.89 576.20 M736.89 576.20L735.71 576.84L735.12 577.48L734.53 578.75L733.94 581.94L733.94 583.86L734.53 587.05L735.12 588.32L735.71 588.96L736.89 589.60 M738.07 589.60L739.26 588.96L739.85 588.32L740.44 587.05L741.03 583.86L741.03 581.94L740.44 578.75L739.85 577.48L739.26 576.84L738.07 576.20 M746.93 578.75L748.12 578.11L749.89 576.20L749.89 589.60 M749.30 576.84L749.30 589.60 M746.93 589.60L752.25 589.60 M757.57 578.75L758.16 579.39L757.57 580.03L756.98 579.39L756.98 578.75L757.57 577.48L758.16 576.84L759.93 576.20L762.29 576.20L764.06 576.84L764.65 577.48L765.25 578.75L765.25 580.03L764.65 581.30L762.88 582.58L759.93 583.86L758.75 584.50L757.57 585.77L756.98 587.69L756.98 589.60 M762.29 576.20L763.47 576.84L764.06 577.48L764.65 578.75L764.65 580.03L764.06 581.30L762.29 582.58L759.93 583.86 M756.98 588.32L757.57 587.69L758.75 587.69L761.70 588.96L763.47 588.96L764.65 588.32L765.25 587.69 M758.75 587.69L761.70 589.60L764.06 589.60L764.65 588.96L765.25 587.69L765.25 586.41 M772.33 576.20L770.56 576.84L769.38 578.75L768.79 581.94L768.79 583.86L769.38 587.05L770.56 588.96L772.33 589.60L773.52 589.60L775.29 588.96L776.47 587.05L777.06 583.86L777.06 581.94L776.47 578.75L775.29 576.84L773.52 576.20L772.33 576.20 M772.33 576.20L771.15 576.84L770.56 577.48L769.97 578.75L769.38 581.94L769.38 583.86L769.97 587.05L770.56 588.32L771.15 588.96L772.33 589.60 M773.52 589.60L774.70 588.96L775.29 588.32L775.88 587.05L776.47 583.86L776.47 581.94L775.88 578.75L775.29 577.48L774.70 576.84L773.52 576.20 M787.69 578.11L787.10 578.75L787.69 579.39L788.28 578.75L788.28 578.11L787.69 576.84L786.51 576.20L784.74 576.20L782.97 576.84L781.78 578.11L781.19 579.39L780.60 581.94L780.60 585.77L781.19 587.69L782.38 588.96L784.15 589.60L785.33 589.60L787.10 588.96L788.28 587.69L788.87 585.77L788.87 585.13L788.28 583.22L787.10 581.94L785.33 581.30L784.74 581.30L782.97 581.94L781.78 583.22L781.19 585.13 M784.74 576.20L783.56 576.84L782.38 578.11L781.78 579.39L781.19 581.94L781.19 585.77L781.78 587.69L782.97 588.96L784.15 589.60 M785.33 589.60L786.51 588.96L787.69 587.69L788.28 585.77L788.28 585.13L787.69 583.22L786.51 581.94L785.33 581.30 M794.19 578.75L795.37 578.11L797.14 576.20L797.14 589.60 M796.55 576.84L796.55 589.60 M794.19 589.60L799.51 589.60 M805.41 576.20L804.23 582.58 M804.23 582.58L805.41 581.30L807.18 580.67L808.96 580.67L810.73 581.30L811.91 582.58L812.50 584.50L812.50 585.77L811.91 587.69L810.73 588.96L808.96 589.60L807.18 589.60L805.41 588.96L804.82 588.32L804.23 587.05L804.23 586.41L804.82 585.77L805.41 586.41L804.82 587.05 M808.96 580.67L810.14 581.30L811.32 582.58L811.91 584.50L811.91 585.77L811.32 587.69L810.14 588.96L808.96 589.60 M805.41 576.20L811.32 576.20 M805.41 576.84L808.37 576.84L811.32 576.20" fill="none" stroke="#000" stroke-width="1.35" stroke-linejoin="round" stroke-linecap="round" shape-rendering="geometricPrecision"/>
<path d="M146.08 544.46L146.90 542.00L146.90 546.91L146.08 544.46L144.44 542.82L141.97 542.00L139.51 542.00L137.04 542.82L135.40 544.46L135.40 546.10L136.22 547.73L137.04 548.55L138.69 549.37L143.61 551.01L145.26 551.83L146.90 553.47 M135.40 546.10L137.04 547.73L138.69 548.55L143.61 550.19L145.26 551.01L146.08 551.83L146.90 553.47L146.90 556.74L145.26 558.38L142.79 559.20L140.33 559.20L137.86 558.38L136.22 556.74L135.40 554.29L135.40 559.20L136.22 556.74 M156.76 542.00L156.76 559.20 M157.58 542.00L157.58 559.20 M151.83 542.00L151.01 546.91L151.01 542.00L163.33 542.00L163.33 546.91L162.51 542.00 M154.29 559.20L160.04 559.20 M173.19 542.00L167.44 559.20 M173.19 542.00L178.94 559.20 M173.19 544.46L178.11 559.20 M169.08 554.29L176.47 554.29 M165.79 559.20L170.72 559.20 M175.65 559.20L180.58 559.20 M185.51 542.00L185.51 559.20 M186.33 542.00L186.33 559.20 M183.04 542.00L192.90 542.00L195.36 542.82L196.19 543.64L197.01 545.28L197.01 546.91L196.19 548.55L195.36 549.37L192.90 550.19L186.33 550.19 M192.90 542.00L194.54 542.82L195.36 543.64L196.19 545.28L196.19 546.91L195.36 548.55L194.54 549.37L192.90 550.19 M183.04 559.20L188.79 559.20 M190.44 550.19L192.08 551.01L192.90 551.83L195.36 557.56L196.19 558.38L197.01 558.38L197.83 557.56 M192.08 551.01L192.90 552.65L194.54 558.38L195.36 559.20L197.01 559.20L197.83 557.56L197.83 556.74 M245.47 542.00L245.47 559.20 M246.29 542.00L246.29 559.20 M256.97 542.00L246.29 552.65 M250.40 549.37L256.97 559.20 M249.58 549.37L256.15 559.20 M243.01 542.00L248.76 542.00 M253.69 542.00L258.61 542.00 M243.01 559.20L248.76 559.20 M253.69 559.20L258.61 559.20 M263.54 542.00L261.90 550.19 M261.90 550.19L263.54 548.55L266.01 547.73L268.47 547.73L270.94 548.55L272.58 550.19L273.40 552.65L273.40 554.29L272.58 556.74L270.94 558.38L268.47 559.20L266.01 559.20L263.54 558.38L262.72 557.56L261.90 555.92L261.90 555.10L262.72 554.29L263.54 555.10L262.72 555.92 M268.47 547.73L270.11 548.55L271.76 550.19L272.58 552.65L272.58 554.29L271.76 556.74L270.11 558.38L268.47 559.20 M263.54 542.00L271.76 542.00 M263.54 542.82L267.65 542.82L271.76 542.00 M610.99 542.00L610.99 559.20 M611.82 542.00L611.82 559.20 M608.50 542.00L614.31 542.00 M608.50 559.20L620.95 559.20L620.95 554.29L620.12 559.20 M630.08 542.00L624.27 559.20 M630.08 542.00L635.89 559.20 M630.08 544.46L635.06 559.20 M625.93 554.29L633.40 554.29 M622.61 559.20L627.59 559.20 M632.57 559.20L637.55 559.20 M642.53 542.00L642.53 559.20 M643.36 542.00L648.34 556.74 M642.53 542.00L648.34 559.20 M654.15 542.00L648.34 559.20 M654.15 542.00L654.15 559.20 M654.98 542.00L654.98 559.20 M640.04 542.00L643.36 542.00 M654.15 542.00L657.47 542.00 M640.04 559.20L645.02 559.20 M651.66 559.20L657.47 559.20 M667.43 542.00L664.94 542.82L663.28 544.46L662.45 546.10L661.62 549.37L661.62 551.83L662.45 555.10L663.28 556.74L664.94 558.38L667.43 559.20L669.09 559.20L671.58 558.38L673.24 556.74L674.07 555.10L674.90 551.83L674.90 549.37L674.07 546.10L673.24 544.46L671.58 542.82L669.09 542.00L667.43 542.00 M667.43 542.00L665.77 542.82L664.11 544.46L663.28 546.10L662.45 549.37L662.45 551.83L663.28 555.10L664.11 556.74L665.77 558.38L667.43 559.20 M669.09 559.20L670.75 558.38L672.41 556.74L673.24 555.10L674.07 551.83L674.07 549.37L673.24 546.10L672.41 544.46L670.75 542.82L669.09 542.00 M690.67 544.46L691.50 542.00L691.50 546.91L690.67 544.46L689.01 542.82L686.52 542.00L684.03 542.00L681.54 542.82L679.88 544.46L679.88 546.10L680.71 547.73L681.54 548.55L683.20 549.37L688.18 551.01L689.84 551.83L691.50 553.47 M679.88 546.10L681.54 547.73L683.20 548.55L688.18 550.19L689.84 551.01L690.67 551.83L691.50 553.47L691.50 556.74L689.84 558.38L687.35 559.20L684.86 559.20L682.37 558.38L680.71 556.74L679.88 554.29L679.88 559.20L680.71 556.74 M701.46 542.00L701.46 559.20 M702.29 542.00L702.29 559.20 M696.48 542.00L695.65 546.91L695.65 542.00L708.10 542.00L708.10 546.91L707.27 542.00 M698.97 559.20L704.78 559.20 M728.02 542.00L728.02 559.20 M728.85 542.00L728.85 559.20 M725.53 542.00L733.83 542.00L736.32 542.82L737.98 544.46L738.81 546.10L739.64 548.55L739.64 552.65L738.81 555.10L737.98 556.74L736.32 558.38L733.83 559.20L725.53 559.20 M733.83 542.00L735.49 542.82L737.15 544.46L737.98 546.10L738.81 548.55L738.81 552.65L737.98 555.10L737.15 556.74L735.49 558.38L733.83 559.20 M746.28 542.00L746.28 559.20 M747.11 542.00L747.11 559.20 M743.79 542.00L753.75 542.00L756.24 542.82L757.07 543.64L757.90 545.28L757.90 546.91L757.07 548.55L756.24 549.37L753.75 550.19L747.11 550.19 M753.75 542.00L755.41 542.82L756.24 543.64L757.07 545.28L757.07 546.91L756.24 548.55L755.41 549.37L753.75 550.19 M743.79 559.20L749.60 559.20 M751.26 550.19L752.92 551.01L753.75 551.83L756.24 557.56L757.07 558.38L757.90 558.38L758.73 557.56 M752.92 551.01L753.75 552.65L755.41 558.38L756.24 559.20L757.90 559.20L758.73 557.56L758.73 556.74 M763.71 545.28L764.54 546.10L763.71 546.91L762.88 546.10L762.88 545.28L763.71 543.64L764.54 542.82L767.03 542.00L770.35 542.00L772.84 542.82L773.67 544.46L773.67 546.91L772.84 548.55L770.35 549.37L767.86 549.37 M770.35 542.00L772.01 542.82L772.84 544.46L772.84 546.91L772.01 548.55L770.35 549.37 M770.35 549.37L772.01 550.19L773.67 551.83L774.50 553.47L774.50 555.92L773.67 557.56L772.84 558.38L770.35 559.20L767.03 559.20L764.54 558.38L763.71 557.56L762.88 555.92L762.88 555.10L763.71 554.29L764.54 555.10L763.71 555.92 M772.84 551.01L773.67 553.47L773.67 555.92L772.84 557.56L772.01 558.38L770.35 559.20" fill="none" stroke="#000" stroke-width="1.15" stroke-linejoin="round" stroke-linecap="round" shape-rendering="geometricPrecision"/>
</svg></body></html>
